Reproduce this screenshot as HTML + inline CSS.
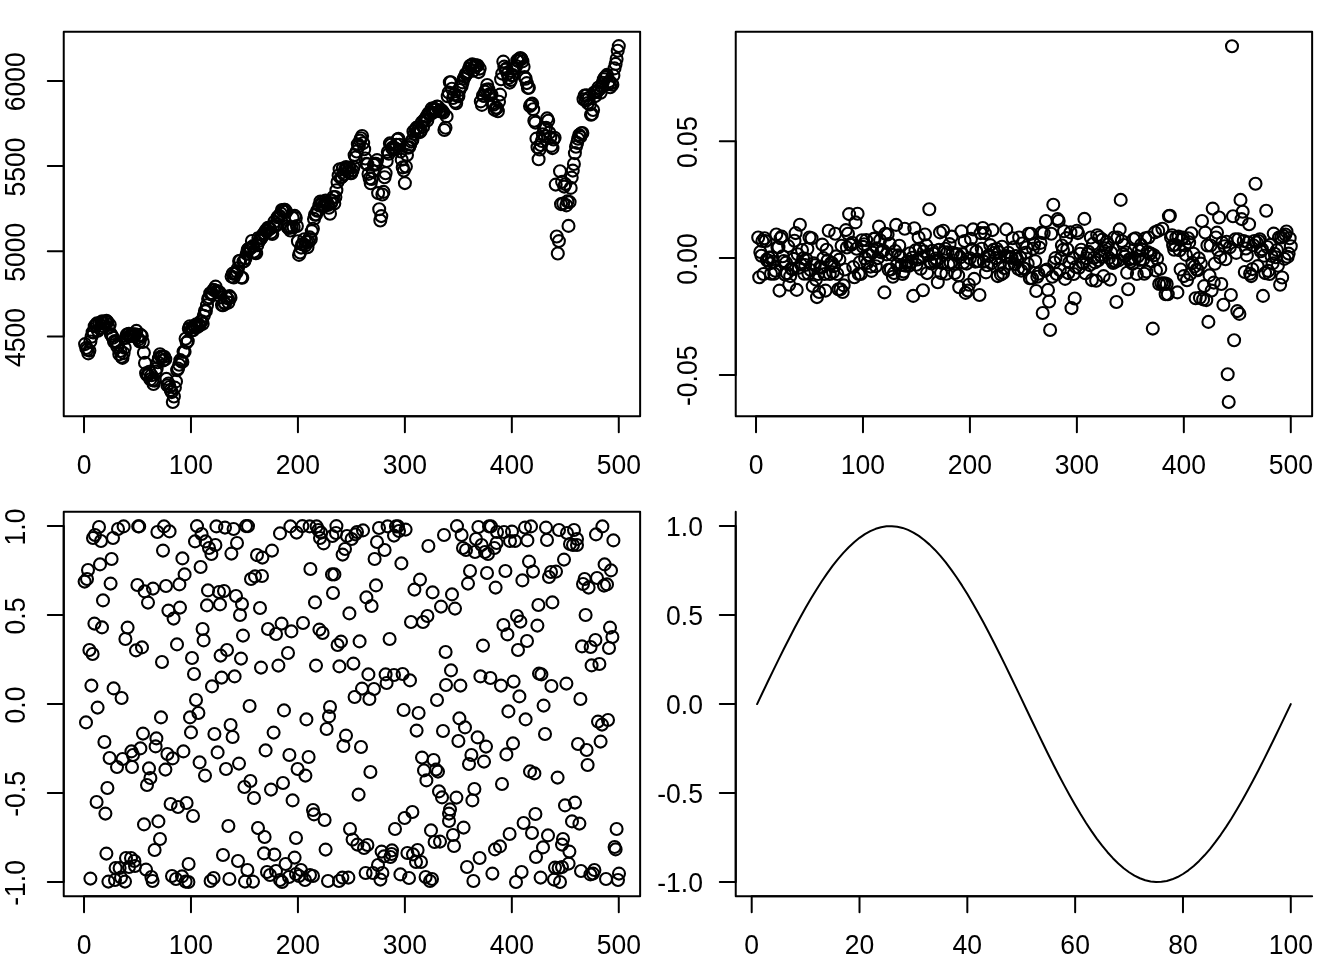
<!DOCTYPE html>
<html><head><meta charset="utf-8"><title>plots</title>
<style>html,body{margin:0;padding:0;background:#fff}svg{display:block}text{font-family:"Liberation Sans",sans-serif;font-size:26.56px;fill:#000}</style></head>
<body>
<svg width="1344" height="960" viewBox="0 0 1344 960">
<rect width="1344" height="960" fill="#fff"/>
<g transform="translate(0,0)">
<g fill="none" stroke="#000" stroke-width="2" stroke-linecap="round" stroke-linejoin="round">
<path d="M63.74 31.87H640.13V416.26H63.74Z"/>
<path d="M84.02 416.26H618.78M84.02 416.26v15.94M190.97 416.26v15.94M297.92 416.26v15.94M404.88 416.26v15.94M511.83 416.26v15.94M618.78 416.26v15.94M63.74 336.51V80.91M63.74 336.51h-15.94M63.74 251.31h-15.94M63.74 166.11h-15.94M63.74 80.91h-15.94"/>
</g>
<text transform="translate(84.02,473.86) scale(1,1.055)" text-anchor="middle">0</text>
<text transform="translate(190.97,473.86) scale(1,1.055)" text-anchor="middle">100</text>
<text transform="translate(297.92,473.86) scale(1,1.055)" text-anchor="middle">200</text>
<text transform="translate(404.88,473.86) scale(1,1.055)" text-anchor="middle">300</text>
<text transform="translate(511.83,473.86) scale(1,1.055)" text-anchor="middle">400</text>
<text transform="translate(618.78,473.86) scale(1,1.055)" text-anchor="middle">500</text>
<text transform="translate(24.94,337.41) rotate(-90) scale(1,1.085)" text-anchor="middle">4500</text>
<text transform="translate(24.94,252.21) rotate(-90) scale(1,1.085)" text-anchor="middle">5000</text>
<text transform="translate(24.94,167.01) rotate(-90) scale(1,1.085)" text-anchor="middle">5500</text>
<text transform="translate(24.94,81.81) rotate(-90) scale(1,1.085)" text-anchor="middle">6000</text>
<g fill="none" stroke="#000" stroke-width="2.1">
<circle cx="85.1" cy="344.1" r="5.98"/>
<circle cx="86.2" cy="348" r="5.98"/>
<circle cx="87.2" cy="349.8" r="5.98"/>
<circle cx="88.3" cy="353.4" r="5.98"/>
<circle cx="89.4" cy="350.6" r="5.98"/>
<circle cx="90.4" cy="341.5" r="5.98"/>
<circle cx="91.5" cy="336.7" r="5.98"/>
<circle cx="92.6" cy="332.2" r="5.98"/>
<circle cx="93.6" cy="332.5" r="5.98"/>
<circle cx="94.7" cy="326.2" r="5.98"/>
<circle cx="95.8" cy="324.9" r="5.98"/>
<circle cx="96.9" cy="323.4" r="5.98"/>
<circle cx="97.9" cy="330.8" r="5.98"/>
<circle cx="99" cy="323.5" r="5.98"/>
<circle cx="100.1" cy="328.1" r="5.98"/>
<circle cx="101.1" cy="322.2" r="5.98"/>
<circle cx="102.2" cy="321.3" r="5.98"/>
<circle cx="103.3" cy="323.1" r="5.98"/>
<circle cx="104.3" cy="326.5" r="5.98"/>
<circle cx="105.4" cy="321.8" r="5.98"/>
<circle cx="106.5" cy="320.9" r="5.98"/>
<circle cx="107.5" cy="321.9" r="5.98"/>
<circle cx="108.6" cy="327.7" r="5.98"/>
<circle cx="109.7" cy="324.6" r="5.98"/>
<circle cx="110.8" cy="334" r="5.98"/>
<circle cx="111.8" cy="335.8" r="5.98"/>
<circle cx="112.9" cy="337.8" r="5.98"/>
<circle cx="114" cy="341.8" r="5.98"/>
<circle cx="115" cy="341.1" r="5.98"/>
<circle cx="116.1" cy="342.1" r="5.98"/>
<circle cx="117.2" cy="346.6" r="5.98"/>
<circle cx="118.2" cy="344.9" r="5.98"/>
<circle cx="119.3" cy="354.2" r="5.98"/>
<circle cx="120.4" cy="351" r="5.98"/>
<circle cx="121.5" cy="356.7" r="5.98"/>
<circle cx="122.5" cy="357.9" r="5.98"/>
<circle cx="123.6" cy="353.1" r="5.98"/>
<circle cx="124.7" cy="347.8" r="5.98"/>
<circle cx="125.7" cy="338" r="5.98"/>
<circle cx="126.8" cy="334.6" r="5.98"/>
<circle cx="127.9" cy="334.5" r="5.98"/>
<circle cx="128.9" cy="333.8" r="5.98"/>
<circle cx="130" cy="335.5" r="5.98"/>
<circle cx="131.1" cy="335.8" r="5.98"/>
<circle cx="132.1" cy="334.1" r="5.98"/>
<circle cx="133.2" cy="334.8" r="5.98"/>
<circle cx="134.3" cy="336.4" r="5.98"/>
<circle cx="135.4" cy="334.4" r="5.98"/>
<circle cx="136.4" cy="330.9" r="5.98"/>
<circle cx="137.5" cy="337.6" r="5.98"/>
<circle cx="138.6" cy="339.4" r="5.98"/>
<circle cx="139.6" cy="341.5" r="5.98"/>
<circle cx="140.7" cy="334.9" r="5.98"/>
<circle cx="141.8" cy="336" r="5.98"/>
<circle cx="142.8" cy="342" r="5.98"/>
<circle cx="143.9" cy="352.7" r="5.98"/>
<circle cx="145" cy="362.9" r="5.98"/>
<circle cx="146.1" cy="373.2" r="5.98"/>
<circle cx="147.1" cy="375.1" r="5.98"/>
<circle cx="148.2" cy="374.9" r="5.98"/>
<circle cx="149.3" cy="371.7" r="5.98"/>
<circle cx="150.3" cy="379.4" r="5.98"/>
<circle cx="151.4" cy="375.2" r="5.98"/>
<circle cx="152.5" cy="380.3" r="5.98"/>
<circle cx="153.5" cy="384" r="5.98"/>
<circle cx="154.6" cy="380.8" r="5.98"/>
<circle cx="155.7" cy="371.6" r="5.98"/>
<circle cx="156.7" cy="368.4" r="5.98"/>
<circle cx="157.8" cy="362.3" r="5.98"/>
<circle cx="158.9" cy="358.1" r="5.98"/>
<circle cx="160" cy="354.3" r="5.98"/>
<circle cx="161" cy="356.6" r="5.98"/>
<circle cx="162.1" cy="356.7" r="5.98"/>
<circle cx="163.2" cy="360.5" r="5.98"/>
<circle cx="164.2" cy="356.7" r="5.98"/>
<circle cx="165.3" cy="359.3" r="5.98"/>
<circle cx="166.4" cy="378.9" r="5.98"/>
<circle cx="167.4" cy="385.4" r="5.98"/>
<circle cx="168.5" cy="383.5" r="5.98"/>
<circle cx="169.6" cy="387" r="5.98"/>
<circle cx="170.7" cy="390.1" r="5.98"/>
<circle cx="171.7" cy="392.1" r="5.98"/>
<circle cx="172.8" cy="402" r="5.98"/>
<circle cx="173.9" cy="396.5" r="5.98"/>
<circle cx="174.9" cy="387.6" r="5.98"/>
<circle cx="176" cy="381.4" r="5.98"/>
<circle cx="177.1" cy="370.1" r="5.98"/>
<circle cx="178.1" cy="368.5" r="5.98"/>
<circle cx="179.2" cy="364.8" r="5.98"/>
<circle cx="180.3" cy="360.1" r="5.98"/>
<circle cx="181.3" cy="361.2" r="5.98"/>
<circle cx="182.4" cy="361.9" r="5.98"/>
<circle cx="183.5" cy="351.6" r="5.98"/>
<circle cx="184.6" cy="351.8" r="5.98"/>
<circle cx="185.6" cy="338.7" r="5.98"/>
<circle cx="186.7" cy="342.6" r="5.98"/>
<circle cx="187.8" cy="341.1" r="5.98"/>
<circle cx="188.8" cy="328.8" r="5.98"/>
<circle cx="189.9" cy="326.2" r="5.98"/>
<circle cx="191" cy="330.8" r="5.98"/>
<circle cx="192" cy="327.6" r="5.98"/>
<circle cx="193.1" cy="330.3" r="5.98"/>
<circle cx="194.2" cy="326.3" r="5.98"/>
<circle cx="195.2" cy="326.5" r="5.98"/>
<circle cx="196.3" cy="324.2" r="5.98"/>
<circle cx="197.4" cy="327.1" r="5.98"/>
<circle cx="198.5" cy="324.1" r="5.98"/>
<circle cx="199.5" cy="325.5" r="5.98"/>
<circle cx="200.6" cy="321.7" r="5.98"/>
<circle cx="201.7" cy="321.2" r="5.98"/>
<circle cx="202.7" cy="323.7" r="5.98"/>
<circle cx="203.8" cy="315.8" r="5.98"/>
<circle cx="204.9" cy="310.9" r="5.98"/>
<circle cx="205.9" cy="311.1" r="5.98"/>
<circle cx="207" cy="305.2" r="5.98"/>
<circle cx="208.1" cy="298.9" r="5.98"/>
<circle cx="209.2" cy="297.4" r="5.98"/>
<circle cx="210.2" cy="293.3" r="5.98"/>
<circle cx="211.3" cy="294.3" r="5.98"/>
<circle cx="212.4" cy="293.6" r="5.98"/>
<circle cx="213.4" cy="289.9" r="5.98"/>
<circle cx="214.5" cy="290.3" r="5.98"/>
<circle cx="215.6" cy="286.6" r="5.98"/>
<circle cx="216.6" cy="291" r="5.98"/>
<circle cx="217.7" cy="291.4" r="5.98"/>
<circle cx="218.8" cy="292" r="5.98"/>
<circle cx="219.8" cy="292.7" r="5.98"/>
<circle cx="220.9" cy="297.2" r="5.98"/>
<circle cx="222" cy="305.1" r="5.98"/>
<circle cx="223.1" cy="305.2" r="5.98"/>
<circle cx="224.1" cy="302.4" r="5.98"/>
<circle cx="225.2" cy="303.8" r="5.98"/>
<circle cx="226.3" cy="297.5" r="5.98"/>
<circle cx="227.3" cy="298.1" r="5.98"/>
<circle cx="228.4" cy="302.6" r="5.98"/>
<circle cx="229.5" cy="296.1" r="5.98"/>
<circle cx="230.5" cy="297.7" r="5.98"/>
<circle cx="231.6" cy="276.6" r="5.98"/>
<circle cx="232.7" cy="273.6" r="5.98"/>
<circle cx="233.8" cy="277.5" r="5.98"/>
<circle cx="234.8" cy="273.9" r="5.98"/>
<circle cx="235.9" cy="273.4" r="5.98"/>
<circle cx="237" cy="271.8" r="5.98"/>
<circle cx="238" cy="268.2" r="5.98"/>
<circle cx="239.1" cy="261" r="5.98"/>
<circle cx="240.2" cy="260.8" r="5.98"/>
<circle cx="241.2" cy="277.4" r="5.98"/>
<circle cx="242.3" cy="277.8" r="5.98"/>
<circle cx="243.4" cy="261.5" r="5.98"/>
<circle cx="244.4" cy="261" r="5.98"/>
<circle cx="245.5" cy="258.3" r="5.98"/>
<circle cx="246.6" cy="253.9" r="5.98"/>
<circle cx="247.7" cy="249.7" r="5.98"/>
<circle cx="248.7" cy="248.8" r="5.98"/>
<circle cx="249.8" cy="248.6" r="5.98"/>
<circle cx="250.9" cy="247.9" r="5.98"/>
<circle cx="251.9" cy="241" r="5.98"/>
<circle cx="253" cy="246.1" r="5.98"/>
<circle cx="254.1" cy="251.6" r="5.98"/>
<circle cx="255.1" cy="252.9" r="5.98"/>
<circle cx="256.2" cy="253.2" r="5.98"/>
<circle cx="257.3" cy="245.2" r="5.98"/>
<circle cx="258.4" cy="238" r="5.98"/>
<circle cx="259.4" cy="240.7" r="5.98"/>
<circle cx="260.5" cy="238.5" r="5.98"/>
<circle cx="261.6" cy="237.7" r="5.98"/>
<circle cx="262.6" cy="235.4" r="5.98"/>
<circle cx="263.7" cy="233.7" r="5.98"/>
<circle cx="264.8" cy="233.4" r="5.98"/>
<circle cx="265.8" cy="230.5" r="5.98"/>
<circle cx="266.9" cy="231.4" r="5.98"/>
<circle cx="268" cy="227.7" r="5.98"/>
<circle cx="269" cy="228.1" r="5.98"/>
<circle cx="270.1" cy="228.7" r="5.98"/>
<circle cx="271.2" cy="232.6" r="5.98"/>
<circle cx="272.3" cy="234" r="5.98"/>
<circle cx="273.3" cy="225.7" r="5.98"/>
<circle cx="274.4" cy="221.8" r="5.98"/>
<circle cx="275.5" cy="226.1" r="5.98"/>
<circle cx="276.5" cy="224.4" r="5.98"/>
<circle cx="277.6" cy="217.3" r="5.98"/>
<circle cx="278.7" cy="216.1" r="5.98"/>
<circle cx="279.7" cy="216.1" r="5.98"/>
<circle cx="280.8" cy="213.4" r="5.98"/>
<circle cx="281.9" cy="210" r="5.98"/>
<circle cx="283" cy="211.3" r="5.98"/>
<circle cx="284" cy="209.8" r="5.98"/>
<circle cx="285.1" cy="209.9" r="5.98"/>
<circle cx="286.2" cy="211.7" r="5.98"/>
<circle cx="287.2" cy="226.5" r="5.98"/>
<circle cx="288.3" cy="228" r="5.98"/>
<circle cx="289.4" cy="227.5" r="5.98"/>
<circle cx="290.4" cy="230.5" r="5.98"/>
<circle cx="291.5" cy="227.5" r="5.98"/>
<circle cx="292.6" cy="217.7" r="5.98"/>
<circle cx="293.6" cy="227.3" r="5.98"/>
<circle cx="294.7" cy="215.9" r="5.98"/>
<circle cx="295.8" cy="218" r="5.98"/>
<circle cx="296.9" cy="226" r="5.98"/>
<circle cx="297.9" cy="241.3" r="5.98"/>
<circle cx="299" cy="254.9" r="5.98"/>
<circle cx="300.1" cy="252.5" r="5.98"/>
<circle cx="301.1" cy="247.6" r="5.98"/>
<circle cx="302.2" cy="244.3" r="5.98"/>
<circle cx="303.3" cy="244" r="5.98"/>
<circle cx="304.3" cy="239.3" r="5.98"/>
<circle cx="305.4" cy="245.6" r="5.98"/>
<circle cx="306.5" cy="242" r="5.98"/>
<circle cx="307.5" cy="247.3" r="5.98"/>
<circle cx="308.6" cy="241.9" r="5.98"/>
<circle cx="309.7" cy="237.4" r="5.98"/>
<circle cx="310.8" cy="239.3" r="5.98"/>
<circle cx="311.8" cy="231.1" r="5.98"/>
<circle cx="312.9" cy="228.7" r="5.98"/>
<circle cx="314" cy="218.9" r="5.98"/>
<circle cx="315" cy="214.8" r="5.98"/>
<circle cx="316.1" cy="214.6" r="5.98"/>
<circle cx="317.2" cy="210.8" r="5.98"/>
<circle cx="318.2" cy="210.4" r="5.98"/>
<circle cx="319.3" cy="205.5" r="5.98"/>
<circle cx="320.4" cy="201.5" r="5.98"/>
<circle cx="321.5" cy="204.2" r="5.98"/>
<circle cx="322.5" cy="201.8" r="5.98"/>
<circle cx="323.6" cy="205.4" r="5.98"/>
<circle cx="324.7" cy="205.8" r="5.98"/>
<circle cx="325.7" cy="200.5" r="5.98"/>
<circle cx="326.8" cy="202.1" r="5.98"/>
<circle cx="327.9" cy="205" r="5.98"/>
<circle cx="328.9" cy="207.8" r="5.98"/>
<circle cx="330" cy="213.8" r="5.98"/>
<circle cx="331.1" cy="203.3" r="5.98"/>
<circle cx="332.1" cy="200.7" r="5.98"/>
<circle cx="333.2" cy="197.1" r="5.98"/>
<circle cx="334.3" cy="203.6" r="5.98"/>
<circle cx="335.4" cy="197" r="5.98"/>
<circle cx="336.4" cy="190.3" r="5.98"/>
<circle cx="337.5" cy="182" r="5.98"/>
<circle cx="338.6" cy="175.5" r="5.98"/>
<circle cx="339.6" cy="169.3" r="5.98"/>
<circle cx="340.7" cy="177.9" r="5.98"/>
<circle cx="341.8" cy="176.9" r="5.98"/>
<circle cx="342.8" cy="168.5" r="5.98"/>
<circle cx="343.9" cy="174.3" r="5.98"/>
<circle cx="345" cy="169.8" r="5.98"/>
<circle cx="346.1" cy="167" r="5.98"/>
<circle cx="347.1" cy="168.4" r="5.98"/>
<circle cx="348.2" cy="171.6" r="5.98"/>
<circle cx="349.3" cy="168.1" r="5.98"/>
<circle cx="350.3" cy="173.1" r="5.98"/>
<circle cx="351.4" cy="173.2" r="5.98"/>
<circle cx="352.5" cy="170.4" r="5.98"/>
<circle cx="353.5" cy="166.9" r="5.98"/>
<circle cx="354.6" cy="155.1" r="5.98"/>
<circle cx="355.7" cy="157.5" r="5.98"/>
<circle cx="356.7" cy="151.5" r="5.98"/>
<circle cx="357.8" cy="144.3" r="5.98"/>
<circle cx="358.9" cy="146.1" r="5.98"/>
<circle cx="360" cy="140.6" r="5.98"/>
<circle cx="361" cy="138.2" r="5.98"/>
<circle cx="362.1" cy="136" r="5.98"/>
<circle cx="363.2" cy="143.1" r="5.98"/>
<circle cx="364.2" cy="149.3" r="5.98"/>
<circle cx="365.3" cy="158.5" r="5.98"/>
<circle cx="366.4" cy="163.9" r="5.98"/>
<circle cx="367.4" cy="164.2" r="5.98"/>
<circle cx="368.5" cy="173.9" r="5.98"/>
<circle cx="369.6" cy="178.4" r="5.98"/>
<circle cx="370.7" cy="183.3" r="5.98"/>
<circle cx="371.7" cy="179" r="5.98"/>
<circle cx="372.8" cy="171.1" r="5.98"/>
<circle cx="373.9" cy="165" r="5.98"/>
<circle cx="374.9" cy="163.8" r="5.98"/>
<circle cx="376" cy="163.9" r="5.98"/>
<circle cx="377.1" cy="160.1" r="5.98"/>
<circle cx="378.1" cy="193.1" r="5.98"/>
<circle cx="379.2" cy="209.2" r="5.98"/>
<circle cx="380.3" cy="220.5" r="5.98"/>
<circle cx="381.3" cy="216.1" r="5.98"/>
<circle cx="382.4" cy="194.5" r="5.98"/>
<circle cx="383.5" cy="191.9" r="5.98"/>
<circle cx="384.6" cy="177.2" r="5.98"/>
<circle cx="385.6" cy="173.2" r="5.98"/>
<circle cx="386.7" cy="161" r="5.98"/>
<circle cx="387.8" cy="151.9" r="5.98"/>
<circle cx="388.8" cy="153.7" r="5.98"/>
<circle cx="389.9" cy="143.4" r="5.98"/>
<circle cx="391" cy="144.7" r="5.98"/>
<circle cx="392" cy="147.9" r="5.98"/>
<circle cx="393.1" cy="149.6" r="5.98"/>
<circle cx="394.2" cy="147.7" r="5.98"/>
<circle cx="395.3" cy="148.5" r="5.98"/>
<circle cx="396.3" cy="144.7" r="5.98"/>
<circle cx="397.4" cy="139.6" r="5.98"/>
<circle cx="398.5" cy="138.7" r="5.98"/>
<circle cx="399.5" cy="144.8" r="5.98"/>
<circle cx="400.6" cy="151.5" r="5.98"/>
<circle cx="401.7" cy="159.8" r="5.98"/>
<circle cx="402.7" cy="167.4" r="5.98"/>
<circle cx="403.8" cy="170.6" r="5.98"/>
<circle cx="404.9" cy="183.1" r="5.98"/>
<circle cx="405.9" cy="166.6" r="5.98"/>
<circle cx="407" cy="155" r="5.98"/>
<circle cx="408.1" cy="147.7" r="5.98"/>
<circle cx="409.2" cy="147" r="5.98"/>
<circle cx="410.2" cy="144.7" r="5.98"/>
<circle cx="411.3" cy="141.6" r="5.98"/>
<circle cx="412.4" cy="139.9" r="5.98"/>
<circle cx="413.4" cy="131.4" r="5.98"/>
<circle cx="414.5" cy="134" r="5.98"/>
<circle cx="415.6" cy="129.6" r="5.98"/>
<circle cx="416.6" cy="127.6" r="5.98"/>
<circle cx="417.7" cy="132.3" r="5.98"/>
<circle cx="418.8" cy="127.9" r="5.98"/>
<circle cx="419.9" cy="132.1" r="5.98"/>
<circle cx="420.9" cy="130.8" r="5.98"/>
<circle cx="422" cy="122.3" r="5.98"/>
<circle cx="423.1" cy="126.9" r="5.98"/>
<circle cx="424.1" cy="120.2" r="5.98"/>
<circle cx="425.2" cy="119.4" r="5.98"/>
<circle cx="426.3" cy="117" r="5.98"/>
<circle cx="427.3" cy="120.5" r="5.98"/>
<circle cx="428.4" cy="113.4" r="5.98"/>
<circle cx="429.5" cy="114.8" r="5.98"/>
<circle cx="430.5" cy="113.3" r="5.98"/>
<circle cx="431.6" cy="108.6" r="5.98"/>
<circle cx="432.7" cy="112.7" r="5.98"/>
<circle cx="433.8" cy="108.2" r="5.98"/>
<circle cx="434.8" cy="109.1" r="5.98"/>
<circle cx="435.9" cy="109.8" r="5.98"/>
<circle cx="437" cy="106.5" r="5.98"/>
<circle cx="438" cy="106.8" r="5.98"/>
<circle cx="439.1" cy="111.1" r="5.98"/>
<circle cx="440.2" cy="110.5" r="5.98"/>
<circle cx="441.2" cy="110" r="5.98"/>
<circle cx="442.3" cy="111.2" r="5.98"/>
<circle cx="443.4" cy="112.6" r="5.98"/>
<circle cx="444.4" cy="130" r="5.98"/>
<circle cx="445.5" cy="127.7" r="5.98"/>
<circle cx="446.6" cy="116.4" r="5.98"/>
<circle cx="447.7" cy="96.3" r="5.98"/>
<circle cx="448.7" cy="92.5" r="5.98"/>
<circle cx="449.8" cy="82.2" r="5.98"/>
<circle cx="450.9" cy="82.2" r="5.98"/>
<circle cx="451.9" cy="88.8" r="5.98"/>
<circle cx="453" cy="98" r="5.98"/>
<circle cx="454.1" cy="94.6" r="5.98"/>
<circle cx="455.1" cy="101.8" r="5.98"/>
<circle cx="456.2" cy="103.3" r="5.98"/>
<circle cx="457.3" cy="95.6" r="5.98"/>
<circle cx="458.4" cy="96.2" r="5.98"/>
<circle cx="459.4" cy="90" r="5.98"/>
<circle cx="460.5" cy="86.8" r="5.98"/>
<circle cx="461.6" cy="86.3" r="5.98"/>
<circle cx="462.6" cy="82.4" r="5.98"/>
<circle cx="463.7" cy="78.6" r="5.98"/>
<circle cx="464.8" cy="76.7" r="5.98"/>
<circle cx="465.8" cy="74" r="5.98"/>
<circle cx="466.9" cy="73.6" r="5.98"/>
<circle cx="468" cy="72" r="5.98"/>
<circle cx="469" cy="68.6" r="5.98"/>
<circle cx="470.1" cy="65.8" r="5.98"/>
<circle cx="471.2" cy="65.7" r="5.98"/>
<circle cx="472.3" cy="64.4" r="5.98"/>
<circle cx="473.3" cy="70.8" r="5.98"/>
<circle cx="474.4" cy="66.5" r="5.98"/>
<circle cx="475.5" cy="65.2" r="5.98"/>
<circle cx="476.5" cy="65.5" r="5.98"/>
<circle cx="477.6" cy="65.5" r="5.98"/>
<circle cx="478.7" cy="72.1" r="5.98"/>
<circle cx="479.7" cy="68.6" r="5.98"/>
<circle cx="480.8" cy="101.4" r="5.98"/>
<circle cx="481.9" cy="104.9" r="5.98"/>
<circle cx="483" cy="95.5" r="5.98"/>
<circle cx="484" cy="96" r="5.98"/>
<circle cx="485.1" cy="91.6" r="5.98"/>
<circle cx="486.2" cy="89.7" r="5.98"/>
<circle cx="487.2" cy="85" r="5.98"/>
<circle cx="488.3" cy="89.2" r="5.98"/>
<circle cx="489.4" cy="94.2" r="5.98"/>
<circle cx="490.4" cy="95" r="5.98"/>
<circle cx="491.5" cy="94.6" r="5.98"/>
<circle cx="492.6" cy="103.4" r="5.98"/>
<circle cx="493.6" cy="104.7" r="5.98"/>
<circle cx="494.7" cy="109.9" r="5.98"/>
<circle cx="495.8" cy="107.8" r="5.98"/>
<circle cx="496.9" cy="108" r="5.98"/>
<circle cx="497.9" cy="111.2" r="5.98"/>
<circle cx="499" cy="101.7" r="5.98"/>
<circle cx="500.1" cy="94.6" r="5.98"/>
<circle cx="501.1" cy="79.2" r="5.98"/>
<circle cx="502.2" cy="73.6" r="5.98"/>
<circle cx="503.3" cy="61.6" r="5.98"/>
<circle cx="504.3" cy="66.6" r="5.98"/>
<circle cx="505.4" cy="69.6" r="5.98"/>
<circle cx="506.5" cy="68.5" r="5.98"/>
<circle cx="507.6" cy="73.7" r="5.98"/>
<circle cx="508.6" cy="78.1" r="5.98"/>
<circle cx="509.7" cy="82.6" r="5.98"/>
<circle cx="510.8" cy="80" r="5.98"/>
<circle cx="511.8" cy="75.2" r="5.98"/>
<circle cx="512.9" cy="75.1" r="5.98"/>
<circle cx="514" cy="69.1" r="5.98"/>
<circle cx="515" cy="68" r="5.98"/>
<circle cx="516.1" cy="66" r="5.98"/>
<circle cx="517.2" cy="60.4" r="5.98"/>
<circle cx="518.2" cy="61.1" r="5.98"/>
<circle cx="519.3" cy="59.1" r="5.98"/>
<circle cx="520.4" cy="58" r="5.98"/>
<circle cx="521.5" cy="59" r="5.98"/>
<circle cx="522.5" cy="61.4" r="5.98"/>
<circle cx="523.6" cy="66.8" r="5.98"/>
<circle cx="524.7" cy="77.1" r="5.98"/>
<circle cx="525.7" cy="78.8" r="5.98"/>
<circle cx="526.8" cy="83.1" r="5.98"/>
<circle cx="527.9" cy="87.9" r="5.98"/>
<circle cx="528.9" cy="87.7" r="5.98"/>
<circle cx="530" cy="106" r="5.98"/>
<circle cx="531.1" cy="104.5" r="5.98"/>
<circle cx="532.2" cy="103.6" r="5.98"/>
<circle cx="533.2" cy="109.2" r="5.98"/>
<circle cx="534.3" cy="120.8" r="5.98"/>
<circle cx="535.4" cy="122.6" r="5.98"/>
<circle cx="536.4" cy="138.6" r="5.98"/>
<circle cx="537.5" cy="147.3" r="5.98"/>
<circle cx="538.6" cy="159.2" r="5.98"/>
<circle cx="539.6" cy="149.5" r="5.98"/>
<circle cx="540.7" cy="145" r="5.98"/>
<circle cx="541.8" cy="141" r="5.98"/>
<circle cx="542.8" cy="134.2" r="5.98"/>
<circle cx="543.9" cy="128.1" r="5.98"/>
<circle cx="545" cy="136.3" r="5.98"/>
<circle cx="546.1" cy="127.8" r="5.98"/>
<circle cx="547.1" cy="118.4" r="5.98"/>
<circle cx="548.2" cy="120.8" r="5.98"/>
<circle cx="549.3" cy="132.7" r="5.98"/>
<circle cx="550.3" cy="137.5" r="5.98"/>
<circle cx="551.4" cy="145.9" r="5.98"/>
<circle cx="552.5" cy="148.1" r="5.98"/>
<circle cx="553.5" cy="139.5" r="5.98"/>
<circle cx="554.6" cy="137.7" r="5.98"/>
<circle cx="555.7" cy="184.6" r="5.98"/>
<circle cx="556.7" cy="236.5" r="5.98"/>
<circle cx="557.8" cy="253.5" r="5.98"/>
<circle cx="558.9" cy="241.1" r="5.98"/>
<circle cx="560" cy="171.2" r="5.98"/>
<circle cx="561" cy="204.1" r="5.98"/>
<circle cx="562.1" cy="181.8" r="5.98"/>
<circle cx="563.2" cy="203.5" r="5.98"/>
<circle cx="564.2" cy="186.6" r="5.98"/>
<circle cx="565.3" cy="184.1" r="5.98"/>
<circle cx="566.4" cy="205.4" r="5.98"/>
<circle cx="567.4" cy="201.4" r="5.98"/>
<circle cx="568.5" cy="225.9" r="5.98"/>
<circle cx="569.6" cy="202.1" r="5.98"/>
<circle cx="570.7" cy="187.9" r="5.98"/>
<circle cx="571.7" cy="177.6" r="5.98"/>
<circle cx="572.8" cy="170.6" r="5.98"/>
<circle cx="573.9" cy="164" r="5.98"/>
<circle cx="574.9" cy="153.1" r="5.98"/>
<circle cx="576" cy="146.8" r="5.98"/>
<circle cx="577.1" cy="142.9" r="5.98"/>
<circle cx="578.1" cy="138.7" r="5.98"/>
<circle cx="579.2" cy="135" r="5.98"/>
<circle cx="580.3" cy="136.9" r="5.98"/>
<circle cx="581.3" cy="133.3" r="5.98"/>
<circle cx="582.4" cy="133" r="5.98"/>
<circle cx="583.5" cy="99.3" r="5.98"/>
<circle cx="584.6" cy="95.6" r="5.98"/>
<circle cx="585.6" cy="100.2" r="5.98"/>
<circle cx="586.7" cy="95.3" r="5.98"/>
<circle cx="587.8" cy="103.1" r="5.98"/>
<circle cx="588.8" cy="97.9" r="5.98"/>
<circle cx="589.9" cy="104.5" r="5.98"/>
<circle cx="591" cy="114.7" r="5.98"/>
<circle cx="592" cy="114.1" r="5.98"/>
<circle cx="593.1" cy="110" r="5.98"/>
<circle cx="594.2" cy="92.5" r="5.98"/>
<circle cx="595.3" cy="96.1" r="5.98"/>
<circle cx="596.3" cy="91.9" r="5.98"/>
<circle cx="597.4" cy="91.1" r="5.98"/>
<circle cx="598.5" cy="87.5" r="5.98"/>
<circle cx="599.5" cy="89.4" r="5.98"/>
<circle cx="600.6" cy="92.8" r="5.98"/>
<circle cx="601.7" cy="86.6" r="5.98"/>
<circle cx="602.7" cy="82.8" r="5.98"/>
<circle cx="603.8" cy="79.2" r="5.98"/>
<circle cx="604.9" cy="77.4" r="5.98"/>
<circle cx="605.9" cy="76.7" r="5.98"/>
<circle cx="607" cy="74.9" r="5.98"/>
<circle cx="608.1" cy="84.1" r="5.98"/>
<circle cx="609.2" cy="81.3" r="5.98"/>
<circle cx="610.2" cy="87.2" r="5.98"/>
<circle cx="611.3" cy="83.1" r="5.98"/>
<circle cx="612.4" cy="84.7" r="5.98"/>
<circle cx="613.4" cy="75.5" r="5.98"/>
<circle cx="614.5" cy="68.4" r="5.98"/>
<circle cx="615.6" cy="63.9" r="5.98"/>
<circle cx="616.6" cy="58.9" r="5.98"/>
<circle cx="617.7" cy="50.8" r="5.98"/>
<circle cx="618.8" cy="46.1" r="5.98"/>
</g>
</g>
<g transform="translate(672,0)">
<g fill="none" stroke="#000" stroke-width="2" stroke-linecap="round" stroke-linejoin="round">
<path d="M63.74 31.87H640.13V416.26H63.74Z"/>
<path d="M84.02 416.26H618.78M84.02 416.26v15.94M190.97 416.26v15.94M297.92 416.26v15.94M404.88 416.26v15.94M511.83 416.26v15.94M618.78 416.26v15.94M63.74 374.90V141.30M63.74 374.90h-15.94M63.74 258.10h-15.94M63.74 141.30h-15.94"/>
</g>
<text transform="translate(84.02,473.86) scale(1,1.055)" text-anchor="middle">0</text>
<text transform="translate(190.97,473.86) scale(1,1.055)" text-anchor="middle">100</text>
<text transform="translate(297.92,473.86) scale(1,1.055)" text-anchor="middle">200</text>
<text transform="translate(404.88,473.86) scale(1,1.055)" text-anchor="middle">300</text>
<text transform="translate(511.83,473.86) scale(1,1.055)" text-anchor="middle">400</text>
<text transform="translate(618.78,473.86) scale(1,1.055)" text-anchor="middle">500</text>
<text transform="translate(24.94,375.80) rotate(-90) scale(1,1.085)" text-anchor="middle">-0.05</text>
<text transform="translate(24.94,259.00) rotate(-90) scale(1,1.085)" text-anchor="middle">0.00</text>
<text transform="translate(24.94,142.20) rotate(-90) scale(1,1.085)" text-anchor="middle">0.05</text>
<g fill="none" stroke="#000" stroke-width="2.1">
<circle cx="86.2" cy="237.5" r="5.98"/>
<circle cx="87.2" cy="277.3" r="5.98"/>
<circle cx="88.3" cy="252" r="5.98"/>
<circle cx="89.4" cy="255.7" r="5.98"/>
<circle cx="90.4" cy="241" r="5.98"/>
<circle cx="91.5" cy="274" r="5.98"/>
<circle cx="92.6" cy="238.2" r="5.98"/>
<circle cx="93.6" cy="241" r="5.98"/>
<circle cx="94.7" cy="259.7" r="5.98"/>
<circle cx="95.8" cy="260.5" r="5.98"/>
<circle cx="96.9" cy="257.6" r="5.98"/>
<circle cx="97.9" cy="263.4" r="5.98"/>
<circle cx="99" cy="273.8" r="5.98"/>
<circle cx="100.1" cy="257.2" r="5.98"/>
<circle cx="101.1" cy="261.8" r="5.98"/>
<circle cx="102.2" cy="273.8" r="5.98"/>
<circle cx="103.3" cy="270.8" r="5.98"/>
<circle cx="104.3" cy="234.5" r="5.98"/>
<circle cx="105.4" cy="247.2" r="5.98"/>
<circle cx="106.5" cy="247.2" r="5.98"/>
<circle cx="107.5" cy="290.6" r="5.98"/>
<circle cx="108.6" cy="238.3" r="5.98"/>
<circle cx="109.7" cy="236.6" r="5.98"/>
<circle cx="110.8" cy="256.2" r="5.98"/>
<circle cx="111.8" cy="261" r="5.98"/>
<circle cx="112.9" cy="274.5" r="5.98"/>
<circle cx="114" cy="262.6" r="5.98"/>
<circle cx="115" cy="273.3" r="5.98"/>
<circle cx="116.1" cy="246.1" r="5.98"/>
<circle cx="117.2" cy="284.7" r="5.98"/>
<circle cx="118.2" cy="276.1" r="5.98"/>
<circle cx="119.3" cy="268.5" r="5.98"/>
<circle cx="120.4" cy="269.4" r="5.98"/>
<circle cx="121.5" cy="258.9" r="5.98"/>
<circle cx="122.5" cy="240.7" r="5.98"/>
<circle cx="123.6" cy="233.1" r="5.98"/>
<circle cx="124.7" cy="289.9" r="5.98"/>
<circle cx="125.7" cy="254.2" r="5.98"/>
<circle cx="126.8" cy="267.7" r="5.98"/>
<circle cx="127.9" cy="224.7" r="5.98"/>
<circle cx="128.9" cy="264.4" r="5.98"/>
<circle cx="130" cy="250" r="5.98"/>
<circle cx="131.1" cy="258.4" r="5.98"/>
<circle cx="132.1" cy="273.8" r="5.98"/>
<circle cx="133.2" cy="265" r="5.98"/>
<circle cx="134.3" cy="259.2" r="5.98"/>
<circle cx="135.4" cy="248.7" r="5.98"/>
<circle cx="136.4" cy="273.8" r="5.98"/>
<circle cx="137.5" cy="237.5" r="5.98"/>
<circle cx="138.6" cy="270.1" r="5.98"/>
<circle cx="139.6" cy="238.2" r="5.98"/>
<circle cx="140.7" cy="286.1" r="5.98"/>
<circle cx="141.8" cy="263.4" r="5.98"/>
<circle cx="142.8" cy="265.3" r="5.98"/>
<circle cx="143.9" cy="279.6" r="5.98"/>
<circle cx="145" cy="297.1" r="5.98"/>
<circle cx="146.1" cy="274" r="5.98"/>
<circle cx="147.1" cy="292" r="5.98"/>
<circle cx="148.2" cy="266.6" r="5.98"/>
<circle cx="149.3" cy="267.7" r="5.98"/>
<circle cx="150.3" cy="244.6" r="5.98"/>
<circle cx="151.4" cy="258.1" r="5.98"/>
<circle cx="152.5" cy="274" r="5.98"/>
<circle cx="153.5" cy="290.6" r="5.98"/>
<circle cx="154.6" cy="249.7" r="5.98"/>
<circle cx="155.7" cy="260.5" r="5.98"/>
<circle cx="156.7" cy="230.8" r="5.98"/>
<circle cx="157.8" cy="274" r="5.98"/>
<circle cx="158.9" cy="263.1" r="5.98"/>
<circle cx="160" cy="263" r="5.98"/>
<circle cx="161" cy="272.3" r="5.98"/>
<circle cx="162.1" cy="266.1" r="5.98"/>
<circle cx="163.2" cy="233.8" r="5.98"/>
<circle cx="164.2" cy="256.4" r="5.98"/>
<circle cx="165.3" cy="274" r="5.98"/>
<circle cx="166.4" cy="289.2" r="5.98"/>
<circle cx="167.4" cy="259.6" r="5.98"/>
<circle cx="168.5" cy="289.2" r="5.98"/>
<circle cx="169.6" cy="245.8" r="5.98"/>
<circle cx="170.7" cy="292" r="5.98"/>
<circle cx="171.7" cy="285.4" r="5.98"/>
<circle cx="172.8" cy="269.5" r="5.98"/>
<circle cx="173.9" cy="230.1" r="5.98"/>
<circle cx="174.9" cy="247.5" r="5.98"/>
<circle cx="176" cy="233.8" r="5.98"/>
<circle cx="177.1" cy="214.1" r="5.98"/>
<circle cx="178.1" cy="244.8" r="5.98"/>
<circle cx="179.2" cy="244.7" r="5.98"/>
<circle cx="180.3" cy="242.8" r="5.98"/>
<circle cx="181.3" cy="267.1" r="5.98"/>
<circle cx="182.4" cy="277.3" r="5.98"/>
<circle cx="183.5" cy="222.4" r="5.98"/>
<circle cx="184.6" cy="248.8" r="5.98"/>
<circle cx="185.6" cy="213.7" r="5.98"/>
<circle cx="186.7" cy="274" r="5.98"/>
<circle cx="187.8" cy="262.3" r="5.98"/>
<circle cx="188.8" cy="274" r="5.98"/>
<circle cx="189.9" cy="240.3" r="5.98"/>
<circle cx="191" cy="246.9" r="5.98"/>
<circle cx="192" cy="244.2" r="5.98"/>
<circle cx="193.1" cy="258.5" r="5.98"/>
<circle cx="194.2" cy="240.1" r="5.98"/>
<circle cx="195.2" cy="263" r="5.98"/>
<circle cx="196.3" cy="255.3" r="5.98"/>
<circle cx="197.4" cy="255.3" r="5.98"/>
<circle cx="198.5" cy="266.6" r="5.98"/>
<circle cx="199.5" cy="270.9" r="5.98"/>
<circle cx="200.6" cy="252.6" r="5.98"/>
<circle cx="201.7" cy="238.9" r="5.98"/>
<circle cx="202.7" cy="238.6" r="5.98"/>
<circle cx="203.8" cy="266.3" r="5.98"/>
<circle cx="204.9" cy="248.3" r="5.98"/>
<circle cx="205.9" cy="258.1" r="5.98"/>
<circle cx="207" cy="226.6" r="5.98"/>
<circle cx="208.1" cy="240.2" r="5.98"/>
<circle cx="209.2" cy="252.2" r="5.98"/>
<circle cx="210.2" cy="250.4" r="5.98"/>
<circle cx="211.3" cy="250.7" r="5.98"/>
<circle cx="212.4" cy="292.4" r="5.98"/>
<circle cx="213.4" cy="233.8" r="5.98"/>
<circle cx="214.5" cy="254.4" r="5.98"/>
<circle cx="215.6" cy="234.5" r="5.98"/>
<circle cx="216.6" cy="269.7" r="5.98"/>
<circle cx="217.7" cy="243.7" r="5.98"/>
<circle cx="218.8" cy="269.5" r="5.98"/>
<circle cx="219.8" cy="254.5" r="5.98"/>
<circle cx="220.9" cy="276.8" r="5.98"/>
<circle cx="222" cy="273.1" r="5.98"/>
<circle cx="223.1" cy="251" r="5.98"/>
<circle cx="224.1" cy="224.9" r="5.98"/>
<circle cx="225.2" cy="264.5" r="5.98"/>
<circle cx="226.3" cy="255.3" r="5.98"/>
<circle cx="227.3" cy="245.8" r="5.98"/>
<circle cx="228.4" cy="256.9" r="5.98"/>
<circle cx="229.5" cy="265" r="5.98"/>
<circle cx="230.5" cy="274" r="5.98"/>
<circle cx="231.6" cy="271.6" r="5.98"/>
<circle cx="232.7" cy="228.7" r="5.98"/>
<circle cx="233.8" cy="265.8" r="5.98"/>
<circle cx="234.8" cy="262.2" r="5.98"/>
<circle cx="235.9" cy="261.5" r="5.98"/>
<circle cx="237" cy="265.7" r="5.98"/>
<circle cx="238" cy="253.2" r="5.98"/>
<circle cx="239.1" cy="262.1" r="5.98"/>
<circle cx="240.2" cy="257.7" r="5.98"/>
<circle cx="241.2" cy="295.9" r="5.98"/>
<circle cx="242.3" cy="228.2" r="5.98"/>
<circle cx="243.4" cy="250.4" r="5.98"/>
<circle cx="244.4" cy="264.7" r="5.98"/>
<circle cx="245.5" cy="259.5" r="5.98"/>
<circle cx="246.6" cy="237.5" r="5.98"/>
<circle cx="247.7" cy="248.5" r="5.98"/>
<circle cx="248.7" cy="268.8" r="5.98"/>
<circle cx="249.8" cy="257.4" r="5.98"/>
<circle cx="250.9" cy="290.3" r="5.98"/>
<circle cx="251.9" cy="251.4" r="5.98"/>
<circle cx="253" cy="234.5" r="5.98"/>
<circle cx="254.1" cy="245.2" r="5.98"/>
<circle cx="255.1" cy="273.1" r="5.98"/>
<circle cx="256.2" cy="255.3" r="5.98"/>
<circle cx="257.3" cy="209.3" r="5.98"/>
<circle cx="258.4" cy="261.7" r="5.98"/>
<circle cx="259.4" cy="263.5" r="5.98"/>
<circle cx="260.5" cy="250.7" r="5.98"/>
<circle cx="261.6" cy="253.8" r="5.98"/>
<circle cx="262.6" cy="261.5" r="5.98"/>
<circle cx="263.7" cy="258.5" r="5.98"/>
<circle cx="264.8" cy="260.6" r="5.98"/>
<circle cx="265.8" cy="282.2" r="5.98"/>
<circle cx="266.9" cy="249.9" r="5.98"/>
<circle cx="268" cy="232.4" r="5.98"/>
<circle cx="269" cy="273.1" r="5.98"/>
<circle cx="270.1" cy="263.1" r="5.98"/>
<circle cx="271.2" cy="230.8" r="5.98"/>
<circle cx="272.3" cy="252.2" r="5.98"/>
<circle cx="273.3" cy="248.7" r="5.98"/>
<circle cx="274.4" cy="273.8" r="5.98"/>
<circle cx="275.5" cy="252.2" r="5.98"/>
<circle cx="276.5" cy="264.5" r="5.98"/>
<circle cx="277.6" cy="244.1" r="5.98"/>
<circle cx="278.7" cy="263" r="5.98"/>
<circle cx="279.7" cy="236.6" r="5.98"/>
<circle cx="280.8" cy="252.7" r="5.98"/>
<circle cx="281.9" cy="263.7" r="5.98"/>
<circle cx="283" cy="273" r="5.98"/>
<circle cx="284" cy="254.6" r="5.98"/>
<circle cx="285.1" cy="254" r="5.98"/>
<circle cx="286.2" cy="275.4" r="5.98"/>
<circle cx="287.2" cy="287.3" r="5.98"/>
<circle cx="288.3" cy="257.4" r="5.98"/>
<circle cx="289.4" cy="231.2" r="5.98"/>
<circle cx="290.4" cy="254.1" r="5.98"/>
<circle cx="291.5" cy="262.8" r="5.98"/>
<circle cx="292.6" cy="241" r="5.98"/>
<circle cx="293.6" cy="292.9" r="5.98"/>
<circle cx="294.7" cy="263.6" r="5.98"/>
<circle cx="295.8" cy="290.6" r="5.98"/>
<circle cx="296.9" cy="284.7" r="5.98"/>
<circle cx="297.9" cy="258.3" r="5.98"/>
<circle cx="299" cy="238.9" r="5.98"/>
<circle cx="300.1" cy="249.1" r="5.98"/>
<circle cx="301.1" cy="229.4" r="5.98"/>
<circle cx="302.2" cy="278.9" r="5.98"/>
<circle cx="303.3" cy="261.6" r="5.98"/>
<circle cx="304.3" cy="251.5" r="5.98"/>
<circle cx="305.4" cy="261.2" r="5.98"/>
<circle cx="306.5" cy="261" r="5.98"/>
<circle cx="307.5" cy="295" r="5.98"/>
<circle cx="308.6" cy="233.1" r="5.98"/>
<circle cx="309.7" cy="248.7" r="5.98"/>
<circle cx="310.8" cy="228" r="5.98"/>
<circle cx="311.8" cy="261.6" r="5.98"/>
<circle cx="312.9" cy="233.1" r="5.98"/>
<circle cx="314" cy="272.4" r="5.98"/>
<circle cx="315" cy="265.2" r="5.98"/>
<circle cx="316.1" cy="255.9" r="5.98"/>
<circle cx="317.2" cy="255.5" r="5.98"/>
<circle cx="318.2" cy="245.1" r="5.98"/>
<circle cx="319.3" cy="263.4" r="5.98"/>
<circle cx="320.4" cy="230.1" r="5.98"/>
<circle cx="321.5" cy="249.9" r="5.98"/>
<circle cx="322.5" cy="252.7" r="5.98"/>
<circle cx="323.6" cy="258.1" r="5.98"/>
<circle cx="324.7" cy="248.9" r="5.98"/>
<circle cx="325.7" cy="276.1" r="5.98"/>
<circle cx="326.8" cy="252.1" r="5.98"/>
<circle cx="327.9" cy="264.8" r="5.98"/>
<circle cx="328.9" cy="274.5" r="5.98"/>
<circle cx="330" cy="246.7" r="5.98"/>
<circle cx="331.1" cy="273.1" r="5.98"/>
<circle cx="332.1" cy="268.1" r="5.98"/>
<circle cx="333.2" cy="256.1" r="5.98"/>
<circle cx="334.3" cy="229.4" r="5.98"/>
<circle cx="335.4" cy="256.7" r="5.98"/>
<circle cx="336.4" cy="252.7" r="5.98"/>
<circle cx="337.5" cy="263.5" r="5.98"/>
<circle cx="338.6" cy="257" r="5.98"/>
<circle cx="339.6" cy="258" r="5.98"/>
<circle cx="340.7" cy="238.2" r="5.98"/>
<circle cx="341.8" cy="247.4" r="5.98"/>
<circle cx="342.8" cy="264.1" r="5.98"/>
<circle cx="343.9" cy="256" r="5.98"/>
<circle cx="345" cy="259.1" r="5.98"/>
<circle cx="346.1" cy="268.8" r="5.98"/>
<circle cx="347.1" cy="237.5" r="5.98"/>
<circle cx="348.2" cy="257.4" r="5.98"/>
<circle cx="349.3" cy="270.6" r="5.98"/>
<circle cx="350.3" cy="243.5" r="5.98"/>
<circle cx="351.4" cy="268.2" r="5.98"/>
<circle cx="352.5" cy="268.8" r="5.98"/>
<circle cx="353.5" cy="252.7" r="5.98"/>
<circle cx="354.6" cy="247.4" r="5.98"/>
<circle cx="355.7" cy="263.7" r="5.98"/>
<circle cx="356.7" cy="233.8" r="5.98"/>
<circle cx="357.8" cy="278.2" r="5.98"/>
<circle cx="358.9" cy="233.8" r="5.98"/>
<circle cx="360" cy="278.2" r="5.98"/>
<circle cx="361" cy="248.8" r="5.98"/>
<circle cx="362.1" cy="244.1" r="5.98"/>
<circle cx="363.2" cy="261.3" r="5.98"/>
<circle cx="364.2" cy="291" r="5.98"/>
<circle cx="365.3" cy="276.8" r="5.98"/>
<circle cx="366.4" cy="273.8" r="5.98"/>
<circle cx="367.4" cy="247.6" r="5.98"/>
<circle cx="368.5" cy="242.9" r="5.98"/>
<circle cx="369.6" cy="232.6" r="5.98"/>
<circle cx="370.7" cy="313" r="5.98"/>
<circle cx="371.7" cy="233.1" r="5.98"/>
<circle cx="372.8" cy="270.9" r="5.98"/>
<circle cx="373.9" cy="221" r="5.98"/>
<circle cx="374.9" cy="269.5" r="5.98"/>
<circle cx="376" cy="289.9" r="5.98"/>
<circle cx="377.1" cy="301.5" r="5.98"/>
<circle cx="378.1" cy="330" r="5.98"/>
<circle cx="379.2" cy="233.8" r="5.98"/>
<circle cx="380.3" cy="276.8" r="5.98"/>
<circle cx="381.3" cy="204.8" r="5.98"/>
<circle cx="382.4" cy="262.5" r="5.98"/>
<circle cx="383.5" cy="258.1" r="5.98"/>
<circle cx="384.6" cy="274" r="5.98"/>
<circle cx="385.6" cy="219.1" r="5.98"/>
<circle cx="386.7" cy="221" r="5.98"/>
<circle cx="387.8" cy="270" r="5.98"/>
<circle cx="388.8" cy="258.2" r="5.98"/>
<circle cx="389.9" cy="245.5" r="5.98"/>
<circle cx="391" cy="249.9" r="5.98"/>
<circle cx="392" cy="231.2" r="5.98"/>
<circle cx="393.1" cy="278.9" r="5.98"/>
<circle cx="394.2" cy="238.1" r="5.98"/>
<circle cx="395.3" cy="249.2" r="5.98"/>
<circle cx="396.3" cy="273.1" r="5.98"/>
<circle cx="397.4" cy="262.2" r="5.98"/>
<circle cx="398.5" cy="232.4" r="5.98"/>
<circle cx="399.5" cy="308.1" r="5.98"/>
<circle cx="400.6" cy="258" r="5.98"/>
<circle cx="401.7" cy="274" r="5.98"/>
<circle cx="402.7" cy="298.5" r="5.98"/>
<circle cx="403.8" cy="267" r="5.98"/>
<circle cx="404.9" cy="230.8" r="5.98"/>
<circle cx="405.9" cy="233.1" r="5.98"/>
<circle cx="407" cy="267.7" r="5.98"/>
<circle cx="408.1" cy="253.8" r="5.98"/>
<circle cx="409.2" cy="249.7" r="5.98"/>
<circle cx="410.2" cy="262.7" r="5.98"/>
<circle cx="411.3" cy="263" r="5.98"/>
<circle cx="412.4" cy="218.9" r="5.98"/>
<circle cx="413.4" cy="273.3" r="5.98"/>
<circle cx="414.5" cy="258.1" r="5.98"/>
<circle cx="415.6" cy="254" r="5.98"/>
<circle cx="416.6" cy="251.9" r="5.98"/>
<circle cx="417.7" cy="265.1" r="5.98"/>
<circle cx="418.8" cy="237.5" r="5.98"/>
<circle cx="419.9" cy="280.1" r="5.98"/>
<circle cx="420.9" cy="243.9" r="5.98"/>
<circle cx="422" cy="257.7" r="5.98"/>
<circle cx="423.1" cy="262.4" r="5.98"/>
<circle cx="424.1" cy="280.8" r="5.98"/>
<circle cx="425.2" cy="235.2" r="5.98"/>
<circle cx="426.3" cy="260.2" r="5.98"/>
<circle cx="427.3" cy="237.3" r="5.98"/>
<circle cx="428.4" cy="255.1" r="5.98"/>
<circle cx="429.5" cy="256.9" r="5.98"/>
<circle cx="430.5" cy="239.6" r="5.98"/>
<circle cx="431.6" cy="276.1" r="5.98"/>
<circle cx="432.7" cy="251.5" r="5.98"/>
<circle cx="433.8" cy="248.4" r="5.98"/>
<circle cx="434.8" cy="242" r="5.98"/>
<circle cx="435.9" cy="244.4" r="5.98"/>
<circle cx="437" cy="257.9" r="5.98"/>
<circle cx="438" cy="279.6" r="5.98"/>
<circle cx="439.1" cy="252.5" r="5.98"/>
<circle cx="440.2" cy="260.9" r="5.98"/>
<circle cx="441.2" cy="263" r="5.98"/>
<circle cx="442.3" cy="237.5" r="5.98"/>
<circle cx="443.4" cy="261.6" r="5.98"/>
<circle cx="444.4" cy="302" r="5.98"/>
<circle cx="445.5" cy="237.5" r="5.98"/>
<circle cx="446.6" cy="260.4" r="5.98"/>
<circle cx="447.7" cy="229.4" r="5.98"/>
<circle cx="448.7" cy="199.9" r="5.98"/>
<circle cx="449.8" cy="241" r="5.98"/>
<circle cx="450.9" cy="254" r="5.98"/>
<circle cx="451.9" cy="245" r="5.98"/>
<circle cx="453" cy="256.4" r="5.98"/>
<circle cx="454.1" cy="252.5" r="5.98"/>
<circle cx="455.1" cy="272.8" r="5.98"/>
<circle cx="456.2" cy="289.2" r="5.98"/>
<circle cx="457.3" cy="259.3" r="5.98"/>
<circle cx="458.4" cy="261.8" r="5.98"/>
<circle cx="459.4" cy="258.5" r="5.98"/>
<circle cx="460.5" cy="263.7" r="5.98"/>
<circle cx="461.6" cy="239.2" r="5.98"/>
<circle cx="462.6" cy="258.5" r="5.98"/>
<circle cx="463.7" cy="238.2" r="5.98"/>
<circle cx="464.8" cy="274" r="5.98"/>
<circle cx="465.8" cy="256.5" r="5.98"/>
<circle cx="466.9" cy="250.7" r="5.98"/>
<circle cx="468" cy="259.9" r="5.98"/>
<circle cx="469" cy="244.9" r="5.98"/>
<circle cx="470.1" cy="249.8" r="5.98"/>
<circle cx="471.2" cy="259.6" r="5.98"/>
<circle cx="472.3" cy="273.8" r="5.98"/>
<circle cx="473.3" cy="238.2" r="5.98"/>
<circle cx="474.4" cy="271.6" r="5.98"/>
<circle cx="475.5" cy="252" r="5.98"/>
<circle cx="476.5" cy="237.5" r="5.98"/>
<circle cx="477.6" cy="254" r="5.98"/>
<circle cx="478.7" cy="253.5" r="5.98"/>
<circle cx="479.7" cy="261.4" r="5.98"/>
<circle cx="480.8" cy="328.6" r="5.98"/>
<circle cx="481.9" cy="255.3" r="5.98"/>
<circle cx="483" cy="232.4" r="5.98"/>
<circle cx="484" cy="270.6" r="5.98"/>
<circle cx="485.1" cy="258.8" r="5.98"/>
<circle cx="486.2" cy="230.8" r="5.98"/>
<circle cx="487.2" cy="284" r="5.98"/>
<circle cx="488.3" cy="268.8" r="5.98"/>
<circle cx="489.4" cy="283.3" r="5.98"/>
<circle cx="490.4" cy="228.7" r="5.98"/>
<circle cx="491.5" cy="284" r="5.98"/>
<circle cx="492.6" cy="283.3" r="5.98"/>
<circle cx="493.6" cy="294.3" r="5.98"/>
<circle cx="494.7" cy="284" r="5.98"/>
<circle cx="495.8" cy="294.3" r="5.98"/>
<circle cx="496.9" cy="216.1" r="5.98"/>
<circle cx="497.9" cy="215.8" r="5.98"/>
<circle cx="499" cy="237.5" r="5.98"/>
<circle cx="500.1" cy="235.2" r="5.98"/>
<circle cx="501.1" cy="245.2" r="5.98"/>
<circle cx="502.2" cy="249.8" r="5.98"/>
<circle cx="503.3" cy="244.8" r="5.98"/>
<circle cx="504.3" cy="237.5" r="5.98"/>
<circle cx="505.4" cy="292.4" r="5.98"/>
<circle cx="506.5" cy="236.6" r="5.98"/>
<circle cx="507.6" cy="250.3" r="5.98"/>
<circle cx="508.6" cy="269.5" r="5.98"/>
<circle cx="509.7" cy="239.6" r="5.98"/>
<circle cx="510.8" cy="237.5" r="5.98"/>
<circle cx="511.8" cy="276.1" r="5.98"/>
<circle cx="512.9" cy="245.2" r="5.98"/>
<circle cx="514" cy="254.9" r="5.98"/>
<circle cx="515" cy="280.3" r="5.98"/>
<circle cx="516.1" cy="238.2" r="5.98"/>
<circle cx="517.2" cy="242.4" r="5.98"/>
<circle cx="518.2" cy="274" r="5.98"/>
<circle cx="519.3" cy="233.3" r="5.98"/>
<circle cx="520.4" cy="262.8" r="5.98"/>
<circle cx="521.5" cy="253.8" r="5.98"/>
<circle cx="522.5" cy="266.5" r="5.98"/>
<circle cx="523.6" cy="298.3" r="5.98"/>
<circle cx="524.7" cy="269.5" r="5.98"/>
<circle cx="525.7" cy="270.2" r="5.98"/>
<circle cx="526.8" cy="258.4" r="5.98"/>
<circle cx="527.9" cy="297.8" r="5.98"/>
<circle cx="528.9" cy="263.6" r="5.98"/>
<circle cx="530" cy="221" r="5.98"/>
<circle cx="531.1" cy="299.4" r="5.98"/>
<circle cx="532.2" cy="286.1" r="5.98"/>
<circle cx="533.2" cy="232.6" r="5.98"/>
<circle cx="534.3" cy="300.1" r="5.98"/>
<circle cx="535.4" cy="245.5" r="5.98"/>
<circle cx="536.4" cy="321.9" r="5.98"/>
<circle cx="537.5" cy="275.4" r="5.98"/>
<circle cx="538.6" cy="245.5" r="5.98"/>
<circle cx="539.6" cy="290.6" r="5.98"/>
<circle cx="540.7" cy="208.6" r="5.98"/>
<circle cx="541.8" cy="282.6" r="5.98"/>
<circle cx="542.8" cy="263.7" r="5.98"/>
<circle cx="543.9" cy="237.5" r="5.98"/>
<circle cx="545" cy="232.6" r="5.98"/>
<circle cx="546.1" cy="250" r="5.98"/>
<circle cx="547.1" cy="217.5" r="5.98"/>
<circle cx="548.2" cy="257.3" r="5.98"/>
<circle cx="549.3" cy="284" r="5.98"/>
<circle cx="550.3" cy="242.6" r="5.98"/>
<circle cx="551.4" cy="304.8" r="5.98"/>
<circle cx="552.5" cy="246.2" r="5.98"/>
<circle cx="553.5" cy="259.2" r="5.98"/>
<circle cx="554.6" cy="241.7" r="5.98"/>
<circle cx="555.7" cy="374.2" r="5.98"/>
<circle cx="556.7" cy="402" r="5.98"/>
<circle cx="557.8" cy="247.2" r="5.98"/>
<circle cx="558.9" cy="295" r="5.98"/>
<circle cx="560" cy="46.2" r="5.98"/>
<circle cx="561" cy="216.3" r="5.98"/>
<circle cx="562.1" cy="340.3" r="5.98"/>
<circle cx="563.2" cy="239.4" r="5.98"/>
<circle cx="564.2" cy="252.9" r="5.98"/>
<circle cx="565.3" cy="311.1" r="5.98"/>
<circle cx="566.4" cy="239.2" r="5.98"/>
<circle cx="567.4" cy="313.9" r="5.98"/>
<circle cx="568.5" cy="199.9" r="5.98"/>
<circle cx="569.6" cy="219.1" r="5.98"/>
<circle cx="570.7" cy="211.8" r="5.98"/>
<circle cx="571.7" cy="241" r="5.98"/>
<circle cx="572.8" cy="272" r="5.98"/>
<circle cx="573.9" cy="248.5" r="5.98"/>
<circle cx="574.9" cy="255.4" r="5.98"/>
<circle cx="576" cy="242.4" r="5.98"/>
<circle cx="577.1" cy="224.2" r="5.98"/>
<circle cx="578.1" cy="273.8" r="5.98"/>
<circle cx="579.2" cy="276.1" r="5.98"/>
<circle cx="580.3" cy="269.1" r="5.98"/>
<circle cx="581.3" cy="245.2" r="5.98"/>
<circle cx="582.4" cy="241" r="5.98"/>
<circle cx="583.5" cy="183.8" r="5.98"/>
<circle cx="584.6" cy="242.4" r="5.98"/>
<circle cx="585.6" cy="266.1" r="5.98"/>
<circle cx="586.7" cy="241" r="5.98"/>
<circle cx="587.8" cy="239.3" r="5.98"/>
<circle cx="588.8" cy="251.2" r="5.98"/>
<circle cx="589.9" cy="249.2" r="5.98"/>
<circle cx="591" cy="295.9" r="5.98"/>
<circle cx="592" cy="255.8" r="5.98"/>
<circle cx="593.1" cy="273.1" r="5.98"/>
<circle cx="594.2" cy="210.7" r="5.98"/>
<circle cx="595.3" cy="247" r="5.98"/>
<circle cx="596.3" cy="270.9" r="5.98"/>
<circle cx="597.4" cy="274" r="5.98"/>
<circle cx="598.5" cy="244.8" r="5.98"/>
<circle cx="599.5" cy="255.9" r="5.98"/>
<circle cx="600.6" cy="263.4" r="5.98"/>
<circle cx="601.7" cy="233.6" r="5.98"/>
<circle cx="602.7" cy="253.7" r="5.98"/>
<circle cx="603.8" cy="257.2" r="5.98"/>
<circle cx="604.9" cy="250.1" r="5.98"/>
<circle cx="605.9" cy="265.7" r="5.98"/>
<circle cx="607" cy="237.5" r="5.98"/>
<circle cx="608.1" cy="284.7" r="5.98"/>
<circle cx="609.2" cy="237.5" r="5.98"/>
<circle cx="610.2" cy="277.5" r="5.98"/>
<circle cx="611.3" cy="235.9" r="5.98"/>
<circle cx="612.4" cy="258.9" r="5.98"/>
<circle cx="613.4" cy="234.5" r="5.98"/>
<circle cx="614.5" cy="231.5" r="5.98"/>
<circle cx="615.6" cy="256.9" r="5.98"/>
<circle cx="616.6" cy="253.6" r="5.98"/>
<circle cx="617.7" cy="238.2" r="5.98"/>
<circle cx="618.8" cy="246.2" r="5.98"/>
</g>
</g>
<g transform="translate(0,480)">
<g fill="none" stroke="#000" stroke-width="2" stroke-linecap="round" stroke-linejoin="round">
<path d="M63.74 31.87H640.13V416.26H63.74Z"/>
<path d="M84.02 416.26H618.78M84.02 416.26v15.94M190.97 416.26v15.94M297.92 416.26v15.94M404.88 416.26v15.94M511.83 416.26v15.94M618.78 416.26v15.94M63.74 402.03V46.11M63.74 402.03h-15.94M63.74 313.05h-15.94M63.74 224.07h-15.94M63.74 135.09h-15.94M63.74 46.11h-15.94"/>
</g>
<text transform="translate(84.02,473.86) scale(1,1.055)" text-anchor="middle">0</text>
<text transform="translate(190.97,473.86) scale(1,1.055)" text-anchor="middle">100</text>
<text transform="translate(297.92,473.86) scale(1,1.055)" text-anchor="middle">200</text>
<text transform="translate(404.88,473.86) scale(1,1.055)" text-anchor="middle">300</text>
<text transform="translate(511.83,473.86) scale(1,1.055)" text-anchor="middle">400</text>
<text transform="translate(618.78,473.86) scale(1,1.055)" text-anchor="middle">500</text>
<text transform="translate(24.94,402.93) rotate(-90) scale(1,1.085)" text-anchor="middle">-1.0</text>
<text transform="translate(24.94,313.95) rotate(-90) scale(1,1.085)" text-anchor="middle">-0.5</text>
<text transform="translate(24.94,224.97) rotate(-90) scale(1,1.085)" text-anchor="middle">0.0</text>
<text transform="translate(24.94,135.99) rotate(-90) scale(1,1.085)" text-anchor="middle">0.5</text>
<text transform="translate(24.94,47.01) rotate(-90) scale(1,1.085)" text-anchor="middle">1.0</text>
<g fill="none" stroke="#000" stroke-width="2.1">
<circle cx="99" cy="47" r="5.98"/>
<circle cx="95" cy="55" r="5.98"/>
<circle cx="93" cy="58" r="5.98"/>
<circle cx="101" cy="61" r="5.98"/>
<circle cx="113" cy="58" r="5.98"/>
<circle cx="118" cy="49" r="5.98"/>
<circle cx="123.6" cy="46.4" r="5.98"/>
<circle cx="138.2" cy="46.4" r="5.98"/>
<circle cx="139.2" cy="46.4" r="5.98"/>
<circle cx="157.4" cy="52" r="5.98"/>
<circle cx="164" cy="46.4" r="5.98"/>
<circle cx="169.6" cy="51.4" r="5.98"/>
<circle cx="163" cy="70.6" r="5.98"/>
<circle cx="197" cy="46.1" r="5.98"/>
<circle cx="201.6" cy="54" r="5.98"/>
<circle cx="195" cy="61.4" r="5.98"/>
<circle cx="205.6" cy="61.4" r="5.98"/>
<circle cx="209" cy="68" r="5.98"/>
<circle cx="215.4" cy="65" r="5.98"/>
<circle cx="211.4" cy="74" r="5.98"/>
<circle cx="216.4" cy="46.4" r="5.98"/>
<circle cx="225" cy="47.6" r="5.98"/>
<circle cx="233.6" cy="49" r="5.98"/>
<circle cx="246" cy="46.1" r="5.98"/>
<circle cx="248" cy="46.1" r="5.98"/>
<circle cx="237" cy="63" r="5.98"/>
<circle cx="231.4" cy="73.6" r="5.98"/>
<circle cx="182.4" cy="78.4" r="5.98"/>
<circle cx="200.6" cy="87" r="5.98"/>
<circle cx="184.6" cy="94.4" r="5.98"/>
<circle cx="111.6" cy="79" r="5.98"/>
<circle cx="100" cy="84.4" r="5.98"/>
<circle cx="88" cy="90" r="5.98"/>
<circle cx="87" cy="99" r="5.98"/>
<circle cx="84.6" cy="101.6" r="5.98"/>
<circle cx="110.6" cy="103.6" r="5.98"/>
<circle cx="103" cy="120.4" r="5.98"/>
<circle cx="137.4" cy="105" r="5.98"/>
<circle cx="144.6" cy="111.4" r="5.98"/>
<circle cx="153" cy="108.6" r="5.98"/>
<circle cx="166" cy="106" r="5.98"/>
<circle cx="179.4" cy="104.4" r="5.98"/>
<circle cx="148" cy="122.6" r="5.98"/>
<circle cx="168.4" cy="130.6" r="5.98"/>
<circle cx="180" cy="127.6" r="5.98"/>
<circle cx="173.6" cy="138.6" r="5.98"/>
<circle cx="208" cy="110.4" r="5.98"/>
<circle cx="219" cy="112" r="5.98"/>
<circle cx="224" cy="111" r="5.98"/>
<circle cx="236" cy="116" r="5.98"/>
<circle cx="207" cy="125.4" r="5.98"/>
<circle cx="220" cy="124.4" r="5.98"/>
<circle cx="242" cy="124" r="5.98"/>
<circle cx="240" cy="135" r="5.98"/>
<circle cx="251" cy="99" r="5.98"/>
<circle cx="255" cy="96.4" r="5.98"/>
<circle cx="94.4" cy="143.6" r="5.98"/>
<circle cx="102" cy="147.4" r="5.98"/>
<circle cx="127.6" cy="147.6" r="5.98"/>
<circle cx="125.4" cy="159" r="5.98"/>
<circle cx="136" cy="170.4" r="5.98"/>
<circle cx="142" cy="167.4" r="5.98"/>
<circle cx="89.4" cy="170" r="5.98"/>
<circle cx="92.6" cy="174" r="5.98"/>
<circle cx="177" cy="164.4" r="5.98"/>
<circle cx="162" cy="182" r="5.98"/>
<circle cx="202.6" cy="149" r="5.98"/>
<circle cx="203.6" cy="160.4" r="5.98"/>
<circle cx="192" cy="178" r="5.98"/>
<circle cx="194" cy="194" r="5.98"/>
<circle cx="243" cy="155.6" r="5.98"/>
<circle cx="227" cy="170" r="5.98"/>
<circle cx="220.6" cy="175.6" r="5.98"/>
<circle cx="241" cy="178.6" r="5.98"/>
<circle cx="234.6" cy="196.4" r="5.98"/>
<circle cx="221.6" cy="197.6" r="5.98"/>
<circle cx="212" cy="206.4" r="5.98"/>
<circle cx="91.4" cy="205.6" r="5.98"/>
<circle cx="113.6" cy="208.4" r="5.98"/>
<circle cx="121.6" cy="218" r="5.98"/>
<circle cx="196" cy="220" r="5.98"/>
<circle cx="280" cy="53.4" r="5.98"/>
<circle cx="290.4" cy="46.4" r="5.98"/>
<circle cx="296.6" cy="52.6" r="5.98"/>
<circle cx="302.4" cy="46.1" r="5.98"/>
<circle cx="309.6" cy="46.4" r="5.98"/>
<circle cx="316.6" cy="46.4" r="5.98"/>
<circle cx="318.4" cy="50" r="5.98"/>
<circle cx="321" cy="52.6" r="5.98"/>
<circle cx="320" cy="58" r="5.98"/>
<circle cx="323.6" cy="63.4" r="5.98"/>
<circle cx="332.4" cy="56" r="5.98"/>
<circle cx="336.4" cy="46.1" r="5.98"/>
<circle cx="336" cy="53" r="5.98"/>
<circle cx="347" cy="56" r="5.98"/>
<circle cx="351.6" cy="59" r="5.98"/>
<circle cx="355.4" cy="54.4" r="5.98"/>
<circle cx="357" cy="52" r="5.98"/>
<circle cx="363" cy="50.4" r="5.98"/>
<circle cx="345" cy="69" r="5.98"/>
<circle cx="342.6" cy="74.6" r="5.98"/>
<circle cx="379" cy="48" r="5.98"/>
<circle cx="387.6" cy="46.4" r="5.98"/>
<circle cx="396" cy="46.4" r="5.98"/>
<circle cx="398" cy="46.4" r="5.98"/>
<circle cx="399" cy="51" r="5.98"/>
<circle cx="394" cy="55.6" r="5.98"/>
<circle cx="405.6" cy="49.6" r="5.98"/>
<circle cx="377" cy="62" r="5.98"/>
<circle cx="384.6" cy="70" r="5.98"/>
<circle cx="374.6" cy="79" r="5.98"/>
<circle cx="401.4" cy="83.4" r="5.98"/>
<circle cx="428.4" cy="66" r="5.98"/>
<circle cx="444" cy="55" r="5.98"/>
<circle cx="272" cy="70.6" r="5.98"/>
<circle cx="262.4" cy="77.6" r="5.98"/>
<circle cx="257" cy="75" r="5.98"/>
<circle cx="262" cy="96" r="5.98"/>
<circle cx="310.4" cy="89" r="5.98"/>
<circle cx="332" cy="94.4" r="5.98"/>
<circle cx="334.4" cy="94.4" r="5.98"/>
<circle cx="333" cy="113" r="5.98"/>
<circle cx="315" cy="122.4" r="5.98"/>
<circle cx="260" cy="128" r="5.98"/>
<circle cx="349.4" cy="133.4" r="5.98"/>
<circle cx="366.4" cy="117.4" r="5.98"/>
<circle cx="371.6" cy="126" r="5.98"/>
<circle cx="376" cy="105.4" r="5.98"/>
<circle cx="420" cy="99.6" r="5.98"/>
<circle cx="414.4" cy="109.6" r="5.98"/>
<circle cx="432.6" cy="112.4" r="5.98"/>
<circle cx="441" cy="126.6" r="5.98"/>
<circle cx="427.4" cy="136" r="5.98"/>
<circle cx="423" cy="142" r="5.98"/>
<circle cx="411" cy="142" r="5.98"/>
<circle cx="389.6" cy="159" r="5.98"/>
<circle cx="268" cy="149" r="5.98"/>
<circle cx="276" cy="154" r="5.98"/>
<circle cx="281.6" cy="143.6" r="5.98"/>
<circle cx="291.4" cy="151.4" r="5.98"/>
<circle cx="303" cy="143" r="5.98"/>
<circle cx="319.4" cy="149.6" r="5.98"/>
<circle cx="322.6" cy="153" r="5.98"/>
<circle cx="341" cy="161.6" r="5.98"/>
<circle cx="337.6" cy="165" r="5.98"/>
<circle cx="359.6" cy="161.4" r="5.98"/>
<circle cx="288" cy="173" r="5.98"/>
<circle cx="261" cy="187.6" r="5.98"/>
<circle cx="278.4" cy="185.6" r="5.98"/>
<circle cx="316" cy="185.6" r="5.98"/>
<circle cx="339.4" cy="186.4" r="5.98"/>
<circle cx="353.4" cy="183.6" r="5.98"/>
<circle cx="368.4" cy="194.4" r="5.98"/>
<circle cx="385.6" cy="194.4" r="5.98"/>
<circle cx="394" cy="195" r="5.98"/>
<circle cx="402.6" cy="194" r="5.98"/>
<circle cx="386.6" cy="203" r="5.98"/>
<circle cx="410" cy="200.4" r="5.98"/>
<circle cx="362" cy="208.6" r="5.98"/>
<circle cx="374" cy="209" r="5.98"/>
<circle cx="354.6" cy="217" r="5.98"/>
<circle cx="369.4" cy="219" r="5.98"/>
<circle cx="437" cy="220" r="5.98"/>
<circle cx="445.6" cy="172" r="5.98"/>
<circle cx="446" cy="205" r="5.98"/>
<circle cx="451" cy="190.4" r="5.98"/>
<circle cx="457" cy="46.1" r="5.98"/>
<circle cx="461.6" cy="55" r="5.98"/>
<circle cx="478.4" cy="47" r="5.98"/>
<circle cx="489" cy="46.4" r="5.98"/>
<circle cx="491" cy="46.4" r="5.98"/>
<circle cx="476" cy="59" r="5.98"/>
<circle cx="481.6" cy="65" r="5.98"/>
<circle cx="463" cy="68" r="5.98"/>
<circle cx="466" cy="70" r="5.98"/>
<circle cx="475" cy="72" r="5.98"/>
<circle cx="485" cy="72" r="5.98"/>
<circle cx="488" cy="74" r="5.98"/>
<circle cx="494.4" cy="68" r="5.98"/>
<circle cx="496.6" cy="63" r="5.98"/>
<circle cx="497" cy="52" r="5.98"/>
<circle cx="504" cy="52" r="5.98"/>
<circle cx="512" cy="51.6" r="5.98"/>
<circle cx="510" cy="61" r="5.98"/>
<circle cx="515" cy="61" r="5.98"/>
<circle cx="525" cy="47.6" r="5.98"/>
<circle cx="531" cy="46.4" r="5.98"/>
<circle cx="527.4" cy="60.4" r="5.98"/>
<circle cx="546" cy="47.6" r="5.98"/>
<circle cx="547" cy="60" r="5.98"/>
<circle cx="559" cy="50" r="5.98"/>
<circle cx="567" cy="53" r="5.98"/>
<circle cx="574" cy="50" r="5.98"/>
<circle cx="577" cy="59" r="5.98"/>
<circle cx="570" cy="64" r="5.98"/>
<circle cx="573" cy="65" r="5.98"/>
<circle cx="577" cy="65" r="5.98"/>
<circle cx="596" cy="54.4" r="5.98"/>
<circle cx="602.4" cy="46.4" r="5.98"/>
<circle cx="613.4" cy="60.4" r="5.98"/>
<circle cx="564" cy="79.6" r="5.98"/>
<circle cx="529" cy="81.6" r="5.98"/>
<circle cx="533" cy="91.6" r="5.98"/>
<circle cx="522.4" cy="100.4" r="5.98"/>
<circle cx="505.4" cy="91" r="5.98"/>
<circle cx="487" cy="93" r="5.98"/>
<circle cx="495.6" cy="107.6" r="5.98"/>
<circle cx="470" cy="91" r="5.98"/>
<circle cx="468" cy="103.6" r="5.98"/>
<circle cx="452" cy="114.4" r="5.98"/>
<circle cx="455" cy="128.6" r="5.98"/>
<circle cx="549" cy="97" r="5.98"/>
<circle cx="551" cy="92" r="5.98"/>
<circle cx="556" cy="91.6" r="5.98"/>
<circle cx="604.6" cy="84.4" r="5.98"/>
<circle cx="611" cy="90.4" r="5.98"/>
<circle cx="597" cy="98" r="5.98"/>
<circle cx="584.6" cy="99" r="5.98"/>
<circle cx="583" cy="104" r="5.98"/>
<circle cx="588.6" cy="107.6" r="5.98"/>
<circle cx="604" cy="105.6" r="5.98"/>
<circle cx="607" cy="104.4" r="5.98"/>
<circle cx="538.4" cy="125" r="5.98"/>
<circle cx="552.4" cy="122.4" r="5.98"/>
<circle cx="585.6" cy="135" r="5.98"/>
<circle cx="517" cy="136" r="5.98"/>
<circle cx="520.4" cy="141.6" r="5.98"/>
<circle cx="503.4" cy="145" r="5.98"/>
<circle cx="507.4" cy="154.4" r="5.98"/>
<circle cx="537.4" cy="145.6" r="5.98"/>
<circle cx="527" cy="161" r="5.98"/>
<circle cx="518" cy="170" r="5.98"/>
<circle cx="483" cy="165.6" r="5.98"/>
<circle cx="460.4" cy="205.6" r="5.98"/>
<circle cx="480.4" cy="196.4" r="5.98"/>
<circle cx="490.4" cy="198" r="5.98"/>
<circle cx="501" cy="205.6" r="5.98"/>
<circle cx="513.6" cy="201.6" r="5.98"/>
<circle cx="519.4" cy="216.4" r="5.98"/>
<circle cx="539" cy="193.6" r="5.98"/>
<circle cx="541.4" cy="194.4" r="5.98"/>
<circle cx="551.4" cy="206" r="5.98"/>
<circle cx="566.4" cy="203.6" r="5.98"/>
<circle cx="580.4" cy="219" r="5.98"/>
<circle cx="610" cy="147.6" r="5.98"/>
<circle cx="612.4" cy="157" r="5.98"/>
<circle cx="609" cy="168" r="5.98"/>
<circle cx="595.4" cy="160" r="5.98"/>
<circle cx="590.6" cy="167" r="5.98"/>
<circle cx="582" cy="166.4" r="5.98"/>
<circle cx="591.6" cy="185.4" r="5.98"/>
<circle cx="599.4" cy="184" r="5.98"/>
<circle cx="97.6" cy="227.6" r="5.98"/>
<circle cx="249.6" cy="226" r="5.98"/>
<circle cx="86" cy="242.4" r="5.98"/>
<circle cx="161" cy="237.4" r="5.98"/>
<circle cx="190" cy="237.4" r="5.98"/>
<circle cx="198.4" cy="233" r="5.98"/>
<circle cx="191" cy="252.4" r="5.98"/>
<circle cx="230.6" cy="245" r="5.98"/>
<circle cx="232.6" cy="257" r="5.98"/>
<circle cx="214.4" cy="254" r="5.98"/>
<circle cx="217.6" cy="272.4" r="5.98"/>
<circle cx="143" cy="253.6" r="5.98"/>
<circle cx="156.4" cy="258.4" r="5.98"/>
<circle cx="155.6" cy="266.4" r="5.98"/>
<circle cx="104.4" cy="262" r="5.98"/>
<circle cx="140.4" cy="268.4" r="5.98"/>
<circle cx="131.4" cy="271.4" r="5.98"/>
<circle cx="133" cy="275" r="5.98"/>
<circle cx="122.6" cy="279" r="5.98"/>
<circle cx="109.6" cy="278" r="5.98"/>
<circle cx="117" cy="287" r="5.98"/>
<circle cx="132" cy="287" r="5.98"/>
<circle cx="167.4" cy="274" r="5.98"/>
<circle cx="172.6" cy="278.4" r="5.98"/>
<circle cx="183.4" cy="271.4" r="5.98"/>
<circle cx="165.4" cy="289.6" r="5.98"/>
<circle cx="149" cy="288.4" r="5.98"/>
<circle cx="150.4" cy="298" r="5.98"/>
<circle cx="147" cy="305" r="5.98"/>
<circle cx="199.6" cy="282.4" r="5.98"/>
<circle cx="205" cy="295.6" r="5.98"/>
<circle cx="226" cy="289" r="5.98"/>
<circle cx="239" cy="283.6" r="5.98"/>
<circle cx="250.4" cy="301" r="5.98"/>
<circle cx="244.4" cy="307" r="5.98"/>
<circle cx="254" cy="318" r="5.98"/>
<circle cx="107.4" cy="308" r="5.98"/>
<circle cx="96.6" cy="322" r="5.98"/>
<circle cx="105.4" cy="333.6" r="5.98"/>
<circle cx="170.6" cy="324" r="5.98"/>
<circle cx="178" cy="327" r="5.98"/>
<circle cx="186.6" cy="323" r="5.98"/>
<circle cx="193" cy="336" r="5.98"/>
<circle cx="158.4" cy="341.4" r="5.98"/>
<circle cx="144" cy="344.4" r="5.98"/>
<circle cx="160" cy="359" r="5.98"/>
<circle cx="154.6" cy="370" r="5.98"/>
<circle cx="228.4" cy="346" r="5.98"/>
<circle cx="223" cy="375" r="5.98"/>
<circle cx="238" cy="381" r="5.98"/>
<circle cx="247.4" cy="390" r="5.98"/>
<circle cx="106.4" cy="373.6" r="5.98"/>
<circle cx="188.6" cy="384" r="5.98"/>
<circle cx="126" cy="378" r="5.98"/>
<circle cx="131" cy="378" r="5.98"/>
<circle cx="134.4" cy="381" r="5.98"/>
<circle cx="115.6" cy="388" r="5.98"/>
<circle cx="119.6" cy="388" r="5.98"/>
<circle cx="129" cy="387" r="5.98"/>
<circle cx="135" cy="386" r="5.98"/>
<circle cx="146" cy="389.6" r="5.98"/>
<circle cx="90.4" cy="398.6" r="5.98"/>
<circle cx="108.4" cy="401.6" r="5.98"/>
<circle cx="115" cy="400" r="5.98"/>
<circle cx="121" cy="397.6" r="5.98"/>
<circle cx="125" cy="401.6" r="5.98"/>
<circle cx="151.4" cy="397" r="5.98"/>
<circle cx="152.6" cy="401" r="5.98"/>
<circle cx="172" cy="396" r="5.98"/>
<circle cx="176" cy="399" r="5.98"/>
<circle cx="182" cy="396.4" r="5.98"/>
<circle cx="185.6" cy="401.6" r="5.98"/>
<circle cx="188.4" cy="402" r="5.98"/>
<circle cx="210.6" cy="401" r="5.98"/>
<circle cx="213.6" cy="398" r="5.98"/>
<circle cx="229.4" cy="399" r="5.98"/>
<circle cx="245" cy="401.6" r="5.98"/>
<circle cx="253" cy="401.6" r="5.98"/>
<circle cx="284" cy="230.4" r="5.98"/>
<circle cx="306.4" cy="239.4" r="5.98"/>
<circle cx="330" cy="227" r="5.98"/>
<circle cx="329" cy="236.4" r="5.98"/>
<circle cx="326.6" cy="249" r="5.98"/>
<circle cx="403.6" cy="230" r="5.98"/>
<circle cx="418.6" cy="233" r="5.98"/>
<circle cx="416.6" cy="250.6" r="5.98"/>
<circle cx="443" cy="251" r="5.98"/>
<circle cx="273.6" cy="252.6" r="5.98"/>
<circle cx="265.6" cy="270.4" r="5.98"/>
<circle cx="289.4" cy="275" r="5.98"/>
<circle cx="308.6" cy="277" r="5.98"/>
<circle cx="297.6" cy="289" r="5.98"/>
<circle cx="305.4" cy="295.6" r="5.98"/>
<circle cx="346" cy="255.6" r="5.98"/>
<circle cx="343.4" cy="266" r="5.98"/>
<circle cx="361" cy="267" r="5.98"/>
<circle cx="370.4" cy="292" r="5.98"/>
<circle cx="358.6" cy="314.6" r="5.98"/>
<circle cx="283" cy="303" r="5.98"/>
<circle cx="271" cy="309.6" r="5.98"/>
<circle cx="292.6" cy="320.4" r="5.98"/>
<circle cx="313" cy="330" r="5.98"/>
<circle cx="314" cy="334.4" r="5.98"/>
<circle cx="324.6" cy="340" r="5.98"/>
<circle cx="258" cy="348" r="5.98"/>
<circle cx="264.6" cy="357" r="5.98"/>
<circle cx="296" cy="358" r="5.98"/>
<circle cx="325.6" cy="369.6" r="5.98"/>
<circle cx="350" cy="349" r="5.98"/>
<circle cx="352.6" cy="359.6" r="5.98"/>
<circle cx="357.4" cy="364.6" r="5.98"/>
<circle cx="364" cy="368" r="5.98"/>
<circle cx="367.4" cy="365" r="5.98"/>
<circle cx="264" cy="373.4" r="5.98"/>
<circle cx="274.4" cy="374.6" r="5.98"/>
<circle cx="294.6" cy="377.6" r="5.98"/>
<circle cx="285.6" cy="384" r="5.98"/>
<circle cx="267" cy="392" r="5.98"/>
<circle cx="270" cy="395" r="5.98"/>
<circle cx="276" cy="391" r="5.98"/>
<circle cx="280" cy="400" r="5.98"/>
<circle cx="282" cy="402" r="5.98"/>
<circle cx="289" cy="397" r="5.98"/>
<circle cx="296" cy="394" r="5.98"/>
<circle cx="299" cy="396" r="5.98"/>
<circle cx="301" cy="390" r="5.98"/>
<circle cx="305" cy="400" r="5.98"/>
<circle cx="310" cy="395" r="5.98"/>
<circle cx="313" cy="396" r="5.98"/>
<circle cx="328" cy="401" r="5.98"/>
<circle cx="339" cy="401" r="5.98"/>
<circle cx="342.4" cy="397.6" r="5.98"/>
<circle cx="348.4" cy="397.6" r="5.98"/>
<circle cx="365.6" cy="393" r="5.98"/>
<circle cx="373" cy="393" r="5.98"/>
<circle cx="378" cy="385" r="5.98"/>
<circle cx="382.4" cy="393" r="5.98"/>
<circle cx="380.4" cy="399.6" r="5.98"/>
<circle cx="381.6" cy="371.6" r="5.98"/>
<circle cx="384" cy="376.4" r="5.98"/>
<circle cx="392" cy="370.4" r="5.98"/>
<circle cx="390.4" cy="377" r="5.98"/>
<circle cx="391.6" cy="374" r="5.98"/>
<circle cx="400.4" cy="394.4" r="5.98"/>
<circle cx="409" cy="398" r="5.98"/>
<circle cx="407.4" cy="373" r="5.98"/>
<circle cx="413" cy="374.4" r="5.98"/>
<circle cx="417.6" cy="370" r="5.98"/>
<circle cx="416" cy="382" r="5.98"/>
<circle cx="421" cy="382" r="5.98"/>
<circle cx="425.6" cy="397" r="5.98"/>
<circle cx="430" cy="401" r="5.98"/>
<circle cx="432" cy="399" r="5.98"/>
<circle cx="395" cy="349" r="5.98"/>
<circle cx="404.6" cy="338" r="5.98"/>
<circle cx="412.4" cy="332" r="5.98"/>
<circle cx="431" cy="350.4" r="5.98"/>
<circle cx="434.6" cy="362" r="5.98"/>
<circle cx="440" cy="361.6" r="5.98"/>
<circle cx="422" cy="277.6" r="5.98"/>
<circle cx="433.6" cy="280" r="5.98"/>
<circle cx="424" cy="290.4" r="5.98"/>
<circle cx="436" cy="289.6" r="5.98"/>
<circle cx="438" cy="291.6" r="5.98"/>
<circle cx="426.4" cy="300.4" r="5.98"/>
<circle cx="439" cy="311.4" r="5.98"/>
<circle cx="442" cy="317.4" r="5.98"/>
<circle cx="459.4" cy="238.4" r="5.98"/>
<circle cx="465" cy="247.4" r="5.98"/>
<circle cx="458.4" cy="261" r="5.98"/>
<circle cx="477.6" cy="257.4" r="5.98"/>
<circle cx="486" cy="266.6" r="5.98"/>
<circle cx="471.4" cy="275" r="5.98"/>
<circle cx="469" cy="284" r="5.98"/>
<circle cx="484" cy="281.6" r="5.98"/>
<circle cx="508.4" cy="231.4" r="5.98"/>
<circle cx="525.6" cy="239.4" r="5.98"/>
<circle cx="543.6" cy="225.6" r="5.98"/>
<circle cx="545" cy="254" r="5.98"/>
<circle cx="513" cy="263.4" r="5.98"/>
<circle cx="506.4" cy="274.4" r="5.98"/>
<circle cx="530" cy="291.4" r="5.98"/>
<circle cx="534.4" cy="293.4" r="5.98"/>
<circle cx="557.6" cy="297.6" r="5.98"/>
<circle cx="502" cy="304" r="5.98"/>
<circle cx="474.4" cy="309" r="5.98"/>
<circle cx="472.4" cy="320.4" r="5.98"/>
<circle cx="456.4" cy="317.6" r="5.98"/>
<circle cx="450" cy="329.4" r="5.98"/>
<circle cx="449" cy="333.6" r="5.98"/>
<circle cx="449" cy="341" r="5.98"/>
<circle cx="463.6" cy="347.6" r="5.98"/>
<circle cx="453" cy="355" r="5.98"/>
<circle cx="454" cy="366" r="5.98"/>
<circle cx="598" cy="241.6" r="5.98"/>
<circle cx="602" cy="244.6" r="5.98"/>
<circle cx="608" cy="240" r="5.98"/>
<circle cx="600.6" cy="261.6" r="5.98"/>
<circle cx="578" cy="264" r="5.98"/>
<circle cx="586.6" cy="270" r="5.98"/>
<circle cx="587.6" cy="285" r="5.98"/>
<circle cx="565" cy="325.4" r="5.98"/>
<circle cx="575" cy="322.6" r="5.98"/>
<circle cx="572" cy="341.4" r="5.98"/>
<circle cx="579.4" cy="343.6" r="5.98"/>
<circle cx="535.4" cy="334" r="5.98"/>
<circle cx="523.6" cy="343" r="5.98"/>
<circle cx="532" cy="353" r="5.98"/>
<circle cx="509.6" cy="354" r="5.98"/>
<circle cx="548" cy="355.4" r="5.98"/>
<circle cx="563" cy="359" r="5.98"/>
<circle cx="562" cy="364.6" r="5.98"/>
<circle cx="569.4" cy="371.6" r="5.98"/>
<circle cx="543" cy="367.4" r="5.98"/>
<circle cx="536" cy="377" r="5.98"/>
<circle cx="500" cy="366.4" r="5.98"/>
<circle cx="495" cy="369.4" r="5.98"/>
<circle cx="479.6" cy="378" r="5.98"/>
<circle cx="467" cy="387" r="5.98"/>
<circle cx="473.4" cy="401" r="5.98"/>
<circle cx="492.4" cy="393.6" r="5.98"/>
<circle cx="521.6" cy="392" r="5.98"/>
<circle cx="516" cy="402" r="5.98"/>
<circle cx="540.6" cy="397.6" r="5.98"/>
<circle cx="554" cy="399.6" r="5.98"/>
<circle cx="560" cy="402" r="5.98"/>
<circle cx="555" cy="387.6" r="5.98"/>
<circle cx="558.6" cy="388" r="5.98"/>
<circle cx="562" cy="387" r="5.98"/>
<circle cx="568.6" cy="383.6" r="5.98"/>
<circle cx="581" cy="391" r="5.98"/>
<circle cx="590.4" cy="394.4" r="5.98"/>
<circle cx="593" cy="393.6" r="5.98"/>
<circle cx="594.4" cy="390" r="5.98"/>
<circle cx="606" cy="399" r="5.98"/>
<circle cx="618" cy="400" r="5.98"/>
<circle cx="619" cy="393.6" r="5.98"/>
<circle cx="616.6" cy="349" r="5.98"/>
<circle cx="614.6" cy="367" r="5.98"/>
<circle cx="615.6" cy="369.4" r="5.98"/>
</g>
</g>
<g transform="translate(672,480)">
<g fill="none" stroke="#000" stroke-width="2" stroke-linecap="round" stroke-linejoin="round">
<path d="M63.74 31.87V416.26H640.13"/>
<path d="M79.70 416.26H618.78M79.70 416.26v15.94M187.51 416.26v15.94M295.33 416.26v15.94M403.15 416.26v15.94M510.97 416.26v15.94M618.78 416.26v15.94M63.74 402.03V46.11M63.74 402.03h-15.94M63.74 313.05h-15.94M63.74 224.07h-15.94M63.74 135.09h-15.94M63.74 46.11h-15.94"/>
</g>
<text transform="translate(79.70,473.86) scale(1,1.055)" text-anchor="middle">0</text>
<text transform="translate(187.51,473.86) scale(1,1.055)" text-anchor="middle">20</text>
<text transform="translate(295.33,473.86) scale(1,1.055)" text-anchor="middle">40</text>
<text transform="translate(403.15,473.86) scale(1,1.055)" text-anchor="middle">60</text>
<text transform="translate(510.97,473.86) scale(1,1.055)" text-anchor="middle">80</text>
<text transform="translate(618.78,473.86) scale(1,1.055)" text-anchor="middle">100</text>
<text transform="translate(30.94,411.93) scale(1,1.055)" text-anchor="end">-1.0</text>
<text transform="translate(30.94,322.95) scale(1,1.055)" text-anchor="end">-0.5</text>
<text transform="translate(30.94,233.97) scale(1,1.055)" text-anchor="end">0.0</text>
<text transform="translate(30.94,144.99) scale(1,1.055)" text-anchor="end">0.5</text>
<text transform="translate(30.94,56.01) scale(1,1.055)" text-anchor="end">1.0</text>
<path d="M85.09 224.07 L90.48 212.78 L95.87 201.54 L101.26 190.39 L106.65 179.38 L112.04 168.54 L117.43 157.93 L122.82 147.58 L128.21 137.55 L133.61 127.86 L139.00 118.56 L144.39 109.68 L149.78 101.26 L155.17 93.34 L160.56 85.95 L165.95 79.11 L171.34 72.85 L176.73 67.21 L182.12 62.19 L187.51 57.83 L192.90 54.14 L198.30 51.13 L203.69 48.81 L209.08 47.21 L214.47 46.31 L219.86 46.13 L225.25 46.67 L230.64 47.92 L236.03 49.88 L241.42 52.54 L246.81 55.90 L252.20 59.93 L257.60 64.62 L262.99 69.95 L268.38 75.91 L273.77 82.46 L279.16 89.58 L284.55 97.24 L289.94 105.41 L295.33 114.06 L300.72 123.16 L306.11 132.66 L311.50 142.52 L316.89 152.72 L322.29 163.20 L327.68 173.93 L333.07 184.86 L338.46 195.95 L343.85 207.15 L349.24 218.42 L354.63 229.72 L360.02 240.99 L365.41 252.19 L370.80 263.28 L376.19 274.21 L381.58 284.94 L386.98 295.42 L392.37 305.62 L397.76 315.48 L403.15 324.98 L408.54 334.08 L413.93 342.73 L419.32 350.90 L424.71 358.56 L430.10 365.68 L435.49 372.23 L440.88 378.19 L446.27 383.52 L451.67 388.21 L457.06 392.24 L462.45 395.60 L467.84 398.26 L473.23 400.22 L478.62 401.47 L484.01 402.01 L489.40 401.83 L494.79 400.93 L500.18 399.33 L505.57 397.01 L510.97 394.00 L516.36 390.31 L521.75 385.95 L527.14 380.93 L532.53 375.29 L537.92 369.03 L543.31 362.19 L548.70 354.80 L554.09 346.88 L559.48 338.46 L564.87 329.58 L570.26 320.28 L575.66 310.59 L581.05 300.56 L586.44 290.21 L591.83 279.60 L597.22 268.76 L602.61 257.75 L608.00 246.60 L613.39 235.36 L618.78 224.07" fill="none" stroke="#000" stroke-width="2" stroke-linecap="round" stroke-linejoin="round"/>
</g>
</svg>
</body></html>
